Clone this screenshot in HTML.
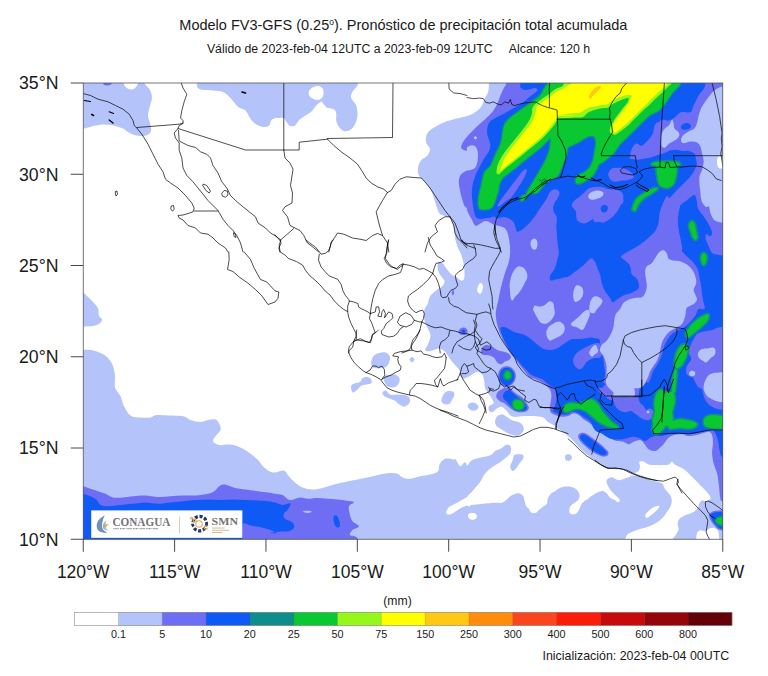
<!DOCTYPE html>
<html><head><meta charset="utf-8"><title>Pronóstico de precipitación</title>
<style>html,body{margin:0;padding:0;background:#fff}svg{display:block}text{font-family:"Liberation Sans",sans-serif;fill:#1a1a1a}</style></head><body>
<svg width="768" height="676" viewBox="0 0 768 676">
<rect width="768" height="676" fill="#fff"/>
<defs><clipPath id="fr"><rect x="83.25" y="83.0" width="639.5" height="456.25"/></clipPath></defs>
<g clip-path="url(#fr)">
<path d="M80.5,80.5C80.5,80.5 123.0,80.5 123.0,80.5C123.0,80.5 123.5,83.7 124.2,85.0C125.0,86.3 126.0,87.8 127.5,88.5C129.0,89.2 131.5,89.7 133.0,89.2C134.5,88.8 135.8,87.5 136.8,86.0C137.7,84.5 138.5,80.5 138.5,80.5C138.5,80.5 143.0,80.5 143.0,80.5C143.0,80.5 143.8,82.7 145.0,84.2C146.2,85.8 148.8,87.7 150.0,90.0C151.2,92.3 152.0,95.4 152.0,98.0C152.0,100.6 150.7,102.6 150.0,105.5C149.3,108.4 148.0,112.6 148.0,115.5C148.0,118.4 149.5,120.5 150.0,123.0C150.5,125.5 151.4,128.5 151.0,130.5C150.6,132.5 149.3,134.1 147.5,135.0C145.7,135.9 142.4,136.1 140.0,136.0C137.6,135.9 135.0,135.2 133.0,134.5C131.0,133.8 129.7,133.0 128.0,132.0C126.3,131.0 125.1,129.5 123.0,128.5C120.9,127.5 118.4,126.7 115.5,126.0C112.6,125.3 108.8,124.6 105.5,124.5C102.2,124.4 98.4,125.0 95.5,125.5C92.6,126.0 90.5,126.8 88.0,127.5C85.5,128.2 80.5,129.5 80.5,129.5C80.5,129.5 80.5,80.5 80.5,80.5Z" fill="#b4c3fa"/>
<path d="M196.8,80.5C196.8,80.5 196.5,85.9 197.5,87.5C198.5,89.1 200.4,89.5 203.0,90.0C205.6,90.5 209.7,90.2 213.0,90.5C216.3,90.8 220.1,90.8 223.0,92.0C225.9,93.2 228.0,95.5 230.5,98.0C233.0,100.5 235.5,104.7 238.0,106.8C240.5,108.8 243.5,108.6 245.5,110.5C247.5,112.4 248.4,115.8 250.0,118.0C251.6,120.2 252.8,122.0 255.0,123.5C257.2,125.0 260.6,126.7 263.0,127.0C265.4,127.3 267.9,126.6 269.2,125.5C270.6,124.4 270.0,121.8 271.0,120.5C272.0,119.2 273.9,118.4 275.0,118.0C276.1,117.6 276.0,118.0 277.5,118.0C279.0,118.0 282.3,117.4 283.8,118.0C285.2,118.6 285.2,120.4 286.2,121.8C287.3,123.1 288.5,125.4 290.0,126.0C291.5,126.6 293.5,126.4 295.0,125.5C296.5,124.6 297.3,122.0 298.8,120.5C300.2,119.0 301.7,118.2 303.8,116.8C305.8,115.3 309.2,113.6 311.2,111.8C313.3,109.9 314.6,107.2 316.2,105.5C317.9,103.8 320.0,102.0 321.2,101.8C322.5,101.5 322.7,103.2 323.8,104.2C324.8,105.3 325.8,107.2 327.5,108.0C329.2,108.8 332.3,108.4 333.8,109.2C335.2,110.1 335.8,111.1 336.2,113.0C336.7,114.9 335.8,118.2 336.2,120.5C336.7,122.8 337.5,125.0 338.8,126.8C340.0,128.5 341.9,130.5 343.8,131.0C345.6,131.5 348.1,131.1 350.0,130.0C351.9,128.9 353.8,126.7 355.0,124.2C356.2,121.8 357.3,118.6 357.5,115.5C357.7,112.4 357.3,108.4 356.2,105.5C355.2,102.6 351.9,100.3 351.2,98.0C350.6,95.7 351.5,93.8 352.5,91.8C353.5,89.7 356.6,87.4 357.5,85.5C358.4,83.6 358.0,80.5 358.0,80.5C358.0,80.5 196.8,80.5 196.8,80.5Z" fill="#b4c3fa"/>
<path d="M80.5,292.0C80.5,292.0 82.9,292.6 84.2,293.5C85.6,294.4 86.8,295.9 88.5,297.5C90.2,299.1 92.7,301.5 94.2,303.2C95.8,305.0 97.2,306.2 98.0,308.2C98.8,310.3 98.3,313.9 99.0,315.8C99.7,317.6 101.9,318.2 102.0,319.5C102.1,320.8 101.0,322.4 99.5,323.5C98.0,324.6 96.2,325.5 93.0,326.0C89.8,326.5 80.5,326.5 80.5,326.5C80.5,326.5 80.5,292.0 80.5,292.0Z" fill="#b4c3fa"/>
<path d="M80.5,350.0C80.5,350.0 87.6,349.7 90.5,350.0C93.4,350.3 95.5,351.0 98.0,352.0C100.5,353.0 103.2,353.9 105.5,355.8C107.8,357.6 110.3,360.8 111.8,363.2C113.2,365.8 113.7,368.5 114.2,370.8C114.8,373.0 114.9,375.0 115.0,377.0C115.1,379.0 114.7,380.5 114.8,382.5C114.8,384.5 114.5,386.5 115.5,388.8C116.5,391.0 119.2,393.8 120.5,396.2C121.8,398.8 122.0,401.2 123.0,403.8C124.0,406.2 125.3,409.2 126.8,411.2C128.2,413.3 129.5,415.2 131.8,416.2C134.0,417.3 137.4,417.3 140.5,417.5C143.6,417.7 148.0,417.9 150.5,417.5C153.0,417.1 152.6,415.6 155.5,415.2C158.4,414.9 163.4,415.3 168.0,415.5C172.6,415.7 179.2,415.5 183.0,416.2C186.8,417.0 187.6,419.0 190.5,420.0C193.4,421.0 197.6,422.0 200.5,422.0C203.4,422.0 205.5,420.4 208.0,420.0C210.5,419.6 213.6,418.9 215.5,419.5C217.4,420.1 218.4,422.0 219.2,423.8C220.1,425.5 221.1,427.9 220.5,430.0C219.9,432.1 216.8,434.4 215.5,436.2C214.2,438.1 212.4,439.8 213.0,441.2C213.6,442.7 216.8,444.5 219.2,445.0C221.8,445.5 225.3,444.4 228.0,444.5C230.7,444.6 233.0,444.8 235.5,445.5C238.0,446.2 240.5,447.4 243.0,448.8C245.5,450.1 248.0,451.9 250.5,453.8C253.0,455.6 255.9,457.9 258.0,460.0C260.1,462.1 261.1,464.4 263.0,466.2C264.9,468.1 267.2,470.2 269.2,471.2C271.2,472.3 272.6,472.6 275.0,472.5C277.4,472.4 281.5,469.9 283.8,470.5C286.0,471.1 286.9,474.2 288.8,476.2C290.6,478.2 292.7,480.6 295.0,482.5C297.3,484.4 299.6,486.3 302.5,487.5C305.4,488.7 309.2,489.4 312.5,489.5C315.8,489.6 319.2,488.8 322.5,488.0C325.8,487.2 329.2,485.9 332.5,485.0C335.8,484.1 338.8,483.3 342.5,482.5C346.2,481.7 350.8,480.8 355.0,480.0C359.2,479.2 363.3,478.4 367.5,477.5C371.7,476.6 376.2,475.2 380.0,474.5C383.8,473.8 387.1,473.1 390.0,473.0C392.9,472.9 395.4,473.0 397.5,473.8C399.6,474.5 400.4,476.7 402.5,477.5C404.6,478.3 407.1,479.0 410.0,478.8C412.9,478.5 416.7,477.0 420.0,476.2C423.3,475.5 427.0,475.3 430.0,474.5C433.0,473.7 436.4,473.2 438.0,471.5C439.6,469.8 438.4,466.6 439.5,464.5C440.6,462.4 442.3,459.9 444.5,459.0C446.7,458.1 450.3,458.5 452.5,459.2C454.7,460.0 456.4,462.2 457.5,463.8C458.6,465.3 457.7,468.1 459.2,468.8C460.8,469.4 465.7,454.8 467.0,467.5C468.3,480.2 467.0,545.0 467.0,545.0C467.0,545.0 80.5,545.0 80.5,545.0C80.5,545.0 80.5,350.0 80.5,350.0Z" fill="#b4c3fa"/>
<path d="M489.0,70.0C489.0,70.0 489.2,85.3 488.5,90.0C487.8,94.7 486.2,95.2 485.0,98.0C483.8,100.8 482.8,104.5 481.0,107.0C479.2,109.5 476.3,111.5 474.0,113.0C471.7,114.5 470.2,115.0 467.0,116.0C463.8,117.0 458.7,118.0 455.0,119.0C451.3,120.0 448.3,120.7 445.0,122.0C441.7,123.3 437.9,125.2 435.0,127.0C432.1,128.8 429.0,130.5 427.5,133.0C426.0,135.5 425.6,139.3 426.0,142.0C426.4,144.7 429.8,146.8 430.0,149.0C430.2,151.2 429.0,153.6 427.5,155.5C426.0,157.4 422.6,158.4 421.0,160.5C419.4,162.6 418.3,165.5 418.0,168.0C417.7,170.5 417.8,173.2 419.0,175.5C420.2,177.8 423.0,179.5 425.0,182.0C427.0,184.5 429.4,187.5 431.0,190.5C432.6,193.5 433.5,197.1 434.5,200.0C435.5,202.9 436.1,205.7 437.0,208.0C437.9,210.3 438.7,212.7 440.0,214.0C441.3,215.3 443.2,215.2 445.0,216.0C446.8,216.8 449.5,216.8 451.0,219.0C452.5,221.2 453.2,225.5 454.0,229.0C454.8,232.5 454.8,236.8 455.5,240.0C456.2,243.2 457.1,245.7 458.0,248.0C458.9,250.3 460.1,251.5 461.0,254.0C461.9,256.5 462.9,260.0 463.5,263.0C464.1,266.0 464.4,269.3 464.5,272.0C464.6,274.7 464.6,277.6 464.0,279.0C463.4,280.4 462.3,280.8 461.0,280.5C459.7,280.2 457.7,278.1 456.0,277.0C454.3,275.9 452.7,275.5 451.0,274.0C449.3,272.5 447.3,269.8 446.0,268.0C444.7,266.2 444.2,264.4 443.0,263.5C441.8,262.6 439.4,261.6 438.5,262.5C437.6,263.4 437.5,267.0 437.7,268.9C437.9,270.8 438.8,272.3 439.6,273.9C440.5,275.5 441.9,276.9 442.8,278.3C443.6,279.7 444.8,280.7 444.7,282.1C444.5,283.4 443.3,285.2 442.1,286.5C441.0,287.7 439.2,288.6 437.7,289.6C436.3,290.7 434.7,291.5 433.3,292.8C432.0,294.0 430.5,295.3 429.6,297.2C428.6,299.1 428.4,302.3 427.7,304.1C426.9,305.9 425.8,306.4 425.2,307.9C424.5,309.3 424.0,310.8 423.9,312.9C423.8,315.0 424.1,318.3 424.5,320.4C424.9,322.5 425.5,323.3 426.4,325.5C427.3,327.6 429.5,331.3 430.1,333.4C430.7,335.6 430.5,336.5 430.1,338.5C429.7,340.4 428.4,343.3 427.6,345.2C426.8,347.0 425.2,348.3 425.1,349.3C425.0,350.3 425.7,351.0 427.1,351.2C428.5,351.3 431.5,350.6 433.4,350.2C435.3,349.7 436.8,348.5 438.5,348.5C440.1,348.5 441.9,349.1 443.5,350.2C445.0,351.3 446.4,353.5 447.7,355.2C448.9,356.9 449.7,358.5 451.0,360.2C452.3,361.9 453.8,363.5 455.2,365.2C456.6,366.9 458.6,368.6 459.4,370.2C460.2,371.9 459.4,373.7 460.1,375.1C460.7,376.4 462.0,378.1 463.4,378.4C464.8,378.7 466.8,377.6 468.4,376.8C470.1,375.9 471.8,374.2 473.4,373.4C475.1,372.6 476.9,371.5 478.5,371.7C480.0,372.0 481.7,373.4 482.6,375.1C483.6,376.8 483.9,379.5 484.3,381.8C484.7,384.0 484.5,386.5 485.2,388.5C485.8,390.4 487.4,391.8 488.5,393.5C489.6,395.2 491.0,396.8 491.8,398.5C492.7,400.2 493.8,402.0 493.5,403.5C493.2,405.0 490.9,406.4 490.2,407.7C489.5,408.9 488.9,410.3 489.3,411.0C489.7,411.7 491.4,412.3 492.7,411.9C493.9,411.5 495.3,409.4 496.9,408.5C498.4,407.7 500.2,406.4 501.9,406.9C503.5,407.3 505.5,409.6 506.9,411.0C508.3,412.4 508.8,414.2 510.2,415.2C511.6,416.2 513.0,416.8 515.3,416.9C517.5,417.0 520.5,416.2 523.6,416.1C526.7,415.9 530.3,415.8 533.6,416.1C537.0,416.3 541.5,416.9 543.7,417.7C545.9,418.5 545.1,419.7 546.7,420.9C548.3,422.1 551.1,423.6 553.4,425.1C555.6,426.6 557.8,428.4 560.1,430.1C562.3,431.8 564.5,433.3 566.8,435.1C569.0,436.9 571.5,439.0 573.4,441.0C575.4,442.9 576.8,445.0 578.5,446.8C580.1,448.6 581.5,450.2 583.5,451.8C585.4,453.5 587.9,455.2 590.2,456.9C592.4,458.5 594.9,460.3 596.9,461.9C598.8,463.4 600.2,464.9 601.9,466.1C603.5,467.2 604.9,468.2 606.9,468.6C608.8,468.9 611.3,468.2 613.6,468.2C615.8,468.2 618.0,468.2 620.3,468.6C622.5,468.9 625.1,469.5 627.0,470.2C628.8,470.9 630.0,472.2 631.1,472.7C632.3,473.3 632.4,473.9 633.6,473.6C634.9,473.3 637.6,472.3 638.7,471.1C639.7,469.8 639.9,467.6 640.0,466.1C640.1,464.5 638.7,462.5 639.2,461.7C639.8,461.0 641.9,461.0 643.4,461.4C644.9,461.8 646.5,463.6 648.4,464.2C650.4,464.9 652.6,464.9 655.1,465.1C657.6,465.2 661.1,465.2 663.5,465.1C665.8,464.9 667.9,464.9 669.3,464.2C670.7,463.6 671.0,461.4 671.8,461.4C672.7,461.4 673.1,463.4 674.3,464.2C675.6,465.1 677.6,465.8 679.4,466.8C681.2,467.7 683.4,468.7 685.2,470.1C687.0,471.5 688.6,473.4 690.2,475.1C691.9,476.8 693.6,478.5 695.3,480.1C696.9,481.8 698.6,483.5 700.3,485.2C701.9,486.8 703.8,488.5 705.3,490.2C706.8,491.8 708.4,493.7 709.5,495.2C710.5,496.7 710.4,498.4 711.6,499.4C712.9,500.3 713.3,500.6 717.0,501.0C720.7,501.5 733.7,501.9 733.7,501.9C733.7,501.9 740.0,500.0 740.0,500.0C740.0,500.0 740.0,70.0 740.0,70.0C740.0,70.0 489.0,70.0 489.0,70.0Z" fill="#b4c3fa"/>
<path d="M453.3,466.0C454.1,450.3 457.8,466.0 460.0,466.0C462.2,466.0 464.9,466.8 466.7,466.0C468.5,465.1 469.2,462.2 470.9,460.9C472.5,459.7 474.4,459.1 476.7,458.4C479.1,457.7 482.7,457.3 485.1,456.8C487.5,456.2 489.3,456.1 490.9,455.1C492.6,454.1 493.4,452.0 495.1,450.9C496.8,449.8 499.2,449.4 501.0,448.4C502.8,447.4 504.6,445.6 506.0,445.1C507.4,444.5 508.5,444.5 509.3,445.1C510.2,445.6 510.9,447.0 511.0,448.4C511.1,449.8 511.0,451.9 510.2,453.4C509.3,454.9 507.4,456.3 506.0,457.6C504.6,458.8 503.3,459.8 501.8,460.9C500.3,462.1 498.5,463.2 496.8,464.3C495.1,465.4 493.4,466.4 491.8,467.6C490.1,468.9 488.1,470.4 486.8,471.8C485.4,473.2 484.4,474.5 483.4,476.0C482.4,477.5 482.0,479.3 480.9,481.0C479.8,482.7 478.3,484.2 476.7,486.0C475.2,487.8 473.4,490.1 471.7,491.9C470.0,493.7 468.4,495.4 466.7,496.9C465.0,498.3 463.0,499.5 461.7,500.6C460.3,501.7 458.9,502.5 458.7,503.6C458.4,504.7 458.9,506.7 460.0,507.3C461.1,507.8 463.3,507.3 465.0,506.9C466.7,506.6 468.1,505.7 470.0,505.3C472.0,504.8 474.2,504.7 476.7,504.4C479.2,504.1 482.3,503.9 485.1,503.6C487.9,503.3 490.7,502.9 493.4,502.7C496.2,502.6 499.7,503.2 501.8,502.7C503.9,502.3 504.7,501.2 506.0,500.2C507.2,499.3 508.1,497.9 509.3,496.9C510.6,495.9 512.0,495.0 513.5,494.4C515.0,493.8 517.0,493.1 518.5,493.2C520.1,493.4 521.7,494.0 522.7,495.2C523.7,496.4 523.8,498.4 524.4,500.2C524.9,502.0 525.4,504.7 526.1,506.1C526.8,507.5 527.9,507.8 528.6,508.6C529.2,509.4 529.3,510.2 529.9,510.9C530.5,511.7 531.2,512.6 532.2,512.9C533.3,513.2 535.0,513.2 536.1,512.8C537.1,512.3 537.5,511.2 538.6,510.3C539.7,509.3 541.4,508.0 542.8,506.9C544.2,505.8 546.1,505.0 547.0,503.6C547.8,502.2 547.1,500.2 547.8,498.6C548.5,496.9 549.9,494.8 551.1,493.5C552.4,492.3 553.8,492.0 555.3,491.0C556.9,490.1 558.4,488.4 560.3,487.7C562.3,486.9 564.8,486.5 567.0,486.5C569.3,486.5 571.9,486.9 573.7,487.7C575.5,488.4 576.9,489.6 577.9,491.0C578.9,492.4 579.6,494.5 579.6,496.1C579.6,497.6 578.7,499.1 577.9,500.2C577.1,501.3 575.7,501.9 574.5,502.7C573.4,503.6 572.0,504.3 571.2,505.3C570.4,506.2 569.8,507.3 569.5,508.6C569.3,509.8 569.0,511.8 569.5,512.8C570.1,513.8 571.6,514.4 572.9,514.4C574.1,514.4 575.9,513.8 577.1,512.8C578.2,511.8 578.9,510.0 579.6,508.6C580.3,507.2 580.4,505.7 581.2,504.4C582.1,503.2 583.4,501.9 584.6,501.1C585.7,500.2 588.0,499.2 588.1,499.4C588.2,499.6 584.8,502.4 585.2,502.0C585.5,501.6 588.2,498.5 590.2,497.0C592.1,495.5 594.8,493.8 596.9,492.8C598.9,491.8 601.0,491.0 602.7,491.1C604.4,491.3 605.6,492.5 606.9,493.6C608.1,494.8 608.8,496.7 610.2,497.8C611.6,498.9 614.1,499.6 615.3,500.3C616.4,501.1 616.5,502.4 617.3,502.3C618.0,502.3 620.5,501.4 619.9,500.0C619.3,498.6 615.5,495.8 613.6,493.6C611.7,491.5 609.7,489.2 608.6,487.0C607.4,484.7 606.0,481.9 606.6,480.3C607.1,478.7 609.9,477.3 611.9,477.3C613.9,477.3 616.1,480.2 618.6,480.3C621.1,480.4 624.4,478.5 627.0,477.8C629.5,477.1 631.4,475.9 633.6,476.1C635.9,476.2 638.1,477.9 640.3,478.6C642.6,479.3 648.7,480.7 647.0,480.3C645.3,479.8 631.8,476.7 630.0,476.0C628.3,475.2 634.5,475.7 636.7,476.0C639.0,476.2 641.2,476.9 643.4,477.6C645.6,478.3 647.9,479.4 650.1,480.1C652.3,480.8 654.7,481.2 656.8,481.8C658.9,482.4 661.4,482.8 662.6,483.8C663.9,484.9 663.2,486.3 664.5,488.2C665.7,490.1 668.9,493.0 670.2,495.2C671.4,497.3 671.8,499.1 671.8,501.0C671.8,503.0 671.0,505.1 670.2,506.9C669.3,508.7 668.1,510.1 666.8,511.9C665.6,513.7 664.2,516.1 662.6,517.8C661.1,519.4 659.4,520.7 657.6,521.9C655.8,523.2 653.9,524.3 651.8,525.3C649.7,526.3 647.3,527.1 645.1,527.8C642.9,528.5 640.6,528.8 638.4,529.5C636.2,530.2 633.7,531.0 631.7,532.0C629.8,532.9 627.9,533.6 626.7,535.3C625.5,537.0 624.7,542.0 624.7,542.0C624.7,542.0 455.0,560.0 455.0,560.0C455.0,560.0 452.5,481.6 453.3,466.0Z" fill="#b4c3fa"/>
<path d="M670.2,542.0C670.2,542.0 674.6,536.6 676.0,534.5C677.4,532.4 678.2,531.3 678.5,529.5C678.8,527.7 677.5,525.4 677.7,523.6C677.9,521.8 678.6,520.0 679.9,518.6C681.1,517.2 683.5,516.1 685.2,515.3C686.9,514.4 688.7,514.2 690.2,513.6C691.8,513.0 693.2,512.5 694.4,511.6C695.7,510.6 696.9,509.1 697.8,507.7C698.6,506.4 698.7,504.7 699.4,503.5C700.1,502.3 700.7,501.0 701.9,500.5C703.2,500.1 705.4,501.4 707.0,501.0C708.5,500.7 709.5,498.9 711.1,498.5C712.8,498.2 713.2,498.7 717.0,498.9C720.8,499.0 733.7,499.4 733.7,499.4C733.7,499.4 733.7,543.7 733.7,543.7C733.7,543.7 719.5,543.7 719.5,543.7C719.5,543.7 719.3,537.5 719.0,535.3C718.7,533.1 718.7,531.6 717.8,530.3C716.9,529.0 715.0,528.1 713.6,527.8C712.3,527.5 710.9,528.1 709.5,528.6C708.1,529.2 706.8,530.9 705.3,531.1C703.8,531.4 701.7,529.9 700.3,530.3C698.9,530.7 697.6,531.4 696.9,533.6C696.2,535.9 696.1,543.7 696.1,543.7C696.1,543.7 670.2,542.0 670.2,542.0Z" fill="#b4c3fa"/>
<path d="M510.2,466.8C510.2,465.0 512.0,462.1 512.7,460.1C513.4,458.1 513.4,456.1 514.3,455.1C515.3,454.1 517.1,454.2 518.5,454.2C520.0,454.2 522.5,454.2 523.2,455.1C523.9,455.9 523.4,457.9 522.7,459.3C522.1,460.7 520.5,461.9 519.4,463.4C518.2,465.0 517.1,467.2 516.0,468.5C514.9,469.7 513.7,471.2 512.7,471.0C511.7,470.7 510.2,468.6 510.2,466.8Z" fill="#b4c3fa"/>
<path d="M565.0,455.9C565.4,455.0 566.8,454.3 567.9,454.2C568.9,454.2 570.6,454.7 571.2,455.4C571.8,456.2 572.1,457.8 571.7,458.8C571.3,459.7 569.7,460.8 568.7,460.9C567.7,461.1 566.3,460.6 565.7,459.8C565.1,458.9 564.7,456.8 565.0,455.9Z" fill="#b4c3fa"/>
<path d="M495.2,420.2C495.5,418.7 496.4,417.0 497.7,416.1C498.9,415.1 501.2,414.2 502.7,414.4C504.2,414.5 505.4,415.9 506.9,416.9C508.4,417.9 510.0,419.4 511.9,420.2C513.9,421.1 516.8,421.1 518.6,421.9C520.4,422.7 521.9,423.9 522.8,425.3C523.6,426.6 524.0,428.7 523.6,430.3C523.2,431.8 521.8,433.6 520.3,434.4C518.7,435.3 516.6,435.9 514.4,435.6C512.2,435.3 509.3,433.9 506.9,432.8C504.5,431.6 502.0,429.8 500.2,428.6C498.4,427.3 496.9,426.6 496.0,425.3C495.2,423.9 494.9,421.8 495.2,420.2Z" fill="#b4c3fa"/>
<path d="M441.7,398.5C442.1,397.1 443.1,394.7 444.2,393.5C445.3,392.2 446.8,391.2 448.4,391.0C449.9,390.7 452.4,391.0 453.4,391.8C454.4,392.6 454.5,394.6 454.2,396.0C453.9,397.4 452.4,398.9 451.7,400.2C451.0,401.4 451.1,402.8 450.0,403.5C448.9,404.2 446.4,404.6 445.0,404.3C443.6,404.1 442.2,402.8 441.7,401.8C441.1,400.9 441.3,399.9 441.7,398.5Z" fill="#b4c3fa"/>
<path d="M467.6,406.0C467.6,404.8 469.5,403.1 470.9,402.7C472.3,402.3 474.7,402.8 476.0,403.5C477.2,404.2 478.5,405.7 478.5,406.9C478.5,408.0 477.2,409.6 476.0,410.2C474.7,410.8 472.3,410.9 470.9,410.2C469.5,409.5 467.6,407.3 467.6,406.0Z" fill="#b4c3fa"/>
<path d="M488.5,407.7C488.6,406.7 489.3,405.7 490.2,405.2C491.0,404.6 492.7,403.9 493.5,404.3C494.3,404.8 495.3,406.6 495.2,407.7C495.0,408.8 493.7,410.5 492.7,411.0C491.7,411.6 490.0,411.6 489.3,411.0C488.6,410.5 488.4,408.7 488.5,407.7Z" fill="#b4c3fa"/>
<path d="M371.2,362.0C371.5,360.1 372.3,357.3 373.8,355.8C375.2,354.2 377.9,353.2 380.0,352.8C382.1,352.2 384.6,352.0 386.2,352.8C387.9,353.5 389.6,355.2 390.0,357.0C390.4,358.8 389.6,361.5 388.8,363.2C387.9,365.0 386.9,366.7 385.0,367.5C383.1,368.3 379.6,368.3 377.5,368.2C375.4,368.2 373.5,368.0 372.5,367.0C371.5,366.0 371.0,363.9 371.2,362.0Z" fill="#b4c3fa"/>
<path d="M383.8,377.0C384.4,375.6 386.9,375.4 388.8,375.0C390.6,374.6 393.2,374.0 395.0,374.5C396.8,375.0 398.9,376.8 399.5,378.2C400.1,379.7 399.5,381.8 398.8,383.2C398.0,384.7 396.7,386.4 395.0,387.0C393.3,387.6 390.4,387.6 388.8,387.0C387.1,386.4 385.8,384.9 385.0,383.2C384.2,381.6 383.1,378.4 383.8,377.0Z" fill="#b4c3fa"/>
<path d="M351.2,385.8C351.7,384.2 353.5,383.9 355.0,383.2C356.5,382.6 358.8,382.8 360.0,382.0C361.2,381.2 361.2,379.1 362.5,378.2C363.8,377.4 366.0,376.8 367.5,377.0C369.0,377.2 370.6,378.5 371.2,379.5C371.9,380.5 372.1,382.4 371.2,383.2C370.4,384.1 367.9,384.1 366.2,384.5C364.6,384.9 362.7,384.9 361.2,385.8C359.8,386.6 359.0,388.4 357.5,389.5C356.0,390.6 353.5,393.1 352.5,392.5C351.5,391.9 350.8,387.3 351.2,385.8Z" fill="#b4c3fa"/>
<path d="M382.5,392.0C382.9,391.2 385.0,390.3 386.2,390.8C387.5,391.2 388.1,393.9 390.0,394.5C391.9,395.1 395.2,394.4 397.5,394.5C399.8,394.6 401.9,394.6 403.8,395.0C405.6,395.4 407.7,395.8 408.8,397.0C409.8,398.2 410.6,400.4 410.0,402.0C409.4,403.6 406.7,406.0 405.0,406.5C403.3,407.0 401.7,406.0 400.0,405.0C398.3,404.0 396.9,401.9 395.0,400.8C393.1,399.6 390.6,399.1 388.8,398.2C386.9,397.4 384.8,396.8 383.8,395.8C382.7,394.7 382.1,392.8 382.5,392.0Z" fill="#b4c3fa"/>
<path d="M409.5,359.5C409.5,358.6 411.2,357.0 412.0,357.0C412.8,357.0 414.5,358.6 414.5,359.5C414.5,360.4 412.8,362.2 412.0,362.2C411.2,362.2 409.5,360.4 409.5,359.5Z" fill="#b4c3fa"/>
<path d="M102.5,81.0C102.5,81.0 112.5,81.0 112.5,81.0C112.5,81.0 112.0,83.8 111.0,84.5C110.0,85.2 108.0,85.5 106.8,85.5C105.5,85.5 104.2,85.0 103.5,84.2C102.8,83.5 102.5,81.0 102.5,81.0Z" fill="#6e6ef5"/>
<path d="M308.8,91.8C309.2,90.2 310.8,88.5 312.5,87.5C314.2,86.5 317.0,85.7 318.8,86.0C320.5,86.3 322.2,87.7 323.0,89.2C323.8,90.8 323.8,93.8 323.2,95.5C322.8,97.2 321.4,98.8 320.0,99.5C318.6,100.2 316.7,100.0 315.0,99.5C313.3,99.0 311.0,98.0 310.0,96.8C309.0,95.5 308.3,93.3 308.8,91.8Z" fill="#ffffff"/>
<path d="M446.0,512.5C445.9,511.6 446.8,510.0 447.5,509.0C448.2,508.0 448.3,507.4 450.0,506.3C451.7,505.2 455.5,503.6 457.5,502.5C459.5,501.4 460.4,500.9 462.0,500.0C463.6,499.1 465.7,498.0 467.0,497.0C468.3,496.0 469.5,492.5 470.0,494.0C470.5,495.5 470.5,504.1 470.0,506.0C469.5,507.9 468.7,505.1 467.0,505.5C465.3,505.9 462.4,507.2 460.0,508.5C457.6,509.8 454.5,512.5 452.5,513.5C450.5,514.5 449.1,514.7 448.0,514.5C446.9,514.3 446.1,513.4 446.0,512.5Z" fill="#ffffff"/>
<path d="M468.0,515.3C468.1,514.3 469.0,513.6 470.0,513.3C471.1,512.9 473.1,512.8 474.2,513.1C475.3,513.4 476.4,514.4 476.7,515.3C477.1,516.1 476.9,517.5 476.4,518.3C475.8,519.0 474.5,519.7 473.4,519.8C472.3,519.9 470.6,519.9 469.7,519.1C468.8,518.4 468.0,516.3 468.0,515.3Z" fill="#ffffff"/>
<path d="M645.1,515.6C645.2,514.6 646.3,513.2 647.6,511.9C648.8,510.6 650.9,508.8 652.6,507.7C654.3,506.7 656.5,505.9 657.6,505.7C658.8,505.6 659.7,506.0 659.5,506.9C659.2,507.8 657.4,509.7 656.0,511.1C654.5,512.5 652.4,514.1 650.9,515.3C649.5,516.4 648.1,517.9 647.1,517.9C646.1,518.0 645.0,516.6 645.1,515.6Z" fill="#ffffff"/>
<path d="M477.4,291.3C477.0,290.1 477.4,287.7 477.9,286.3C478.4,284.9 479.5,283.1 480.4,283.0C481.2,282.8 482.6,284.2 482.9,285.5C483.2,286.7 482.9,289.1 482.4,290.5C481.9,291.9 480.9,293.7 480.0,293.8C479.2,294.0 477.7,292.6 477.4,291.3Z" fill="#ffffff"/>
<path d="M80.5,485.5C80.5,485.5 87.6,487.8 90.5,488.8C93.4,489.7 95.5,490.4 98.0,491.2C100.5,492.1 103.0,492.7 105.5,493.8C108.0,494.8 110.1,496.9 113.0,497.5C115.9,498.1 119.7,497.7 123.0,497.5C126.3,497.3 129.2,496.6 133.0,496.2C136.8,495.9 141.3,495.4 145.5,495.5C149.7,495.6 153.8,496.9 158.0,497.0C162.2,497.1 166.3,496.5 170.5,496.2C174.7,496.0 178.8,495.6 183.0,495.5C187.2,495.4 191.3,495.8 195.5,495.5C199.7,495.2 204.9,494.5 208.0,493.8C211.1,493.0 212.4,492.5 214.2,491.2C216.1,490.0 217.8,487.4 219.2,486.2C220.7,485.1 221.5,484.6 223.0,484.5C224.5,484.4 225.9,484.9 228.0,485.5C230.1,486.1 232.6,487.3 235.5,488.0C238.4,488.7 241.8,489.0 245.5,489.5C249.2,490.0 254.2,490.8 258.0,491.2C261.8,491.8 265.2,492.1 268.0,492.5C270.8,492.9 272.6,493.3 275.0,493.8C277.4,494.2 280.0,494.0 282.5,495.0C285.0,496.0 287.1,499.6 290.0,500.0C292.9,500.4 297.1,497.7 300.0,497.5C302.9,497.3 304.6,498.7 307.5,498.8C310.4,498.8 314.2,498.0 317.5,498.0C320.8,498.0 324.2,498.5 327.5,498.8C330.8,499.0 334.2,499.2 337.5,499.5C340.8,499.8 344.8,500.2 347.5,500.8C350.2,501.2 353.8,501.6 354.0,502.5C354.2,503.4 349.7,504.2 349.0,506.2C348.3,508.3 349.4,512.5 350.0,515.0C350.6,517.5 351.0,519.4 352.5,521.2C354.0,523.1 359.0,524.8 359.0,526.2C359.0,527.7 354.0,528.5 352.5,530.0C351.0,531.5 349.2,533.8 350.0,535.0C350.8,536.2 355.5,535.8 357.0,537.5C358.5,539.2 359.0,545.0 359.0,545.0C359.0,545.0 80.5,545.0 80.5,545.0C80.5,545.0 80.5,485.5 80.5,485.5Z" fill="#6e6ef5"/>
<path d="M506.3,73.0C506.3,73.0 506.9,80.2 506.3,83.0C505.7,85.8 503.9,87.6 503.0,89.7C502.0,91.8 501.4,93.2 500.4,95.5C499.5,97.9 498.5,101.1 497.1,103.9C495.7,106.7 494.0,109.8 492.1,112.3C490.1,114.8 487.6,116.9 485.4,119.0C483.2,121.0 480.7,123.0 478.7,124.8C476.8,126.6 475.4,128.2 473.7,129.8C472.0,131.5 469.8,133.7 468.7,134.8C467.6,136.0 467.3,136.4 467.0,136.7C466.7,137.0 467.8,135.7 467.0,136.8C466.2,137.8 463.5,141.1 462.5,143.0C461.5,144.9 461.0,146.8 461.2,148.0C461.5,149.2 463.0,149.6 464.0,150.0C465.0,150.4 466.5,150.9 467.0,150.5C467.5,150.1 466.2,148.3 467.0,147.4C467.8,146.5 470.5,145.2 472.0,145.2C473.5,145.2 475.2,146.0 476.2,147.4C477.2,148.7 477.7,150.9 477.9,153.2C478.1,155.6 477.8,159.2 477.4,161.6C476.9,164.0 476.5,166.1 475.4,167.4C474.2,168.8 471.7,169.5 470.3,170.0C469.0,170.5 467.6,170.4 467.0,170.5C466.4,170.5 468.0,169.9 467.0,170.5C466.0,171.1 462.6,172.6 461.2,174.2C459.9,175.9 459.0,177.8 458.8,180.5C458.5,183.2 459.4,187.2 460.0,190.5C460.6,193.8 461.7,197.8 462.5,200.5C463.3,203.2 464.2,205.5 465.0,206.8C465.8,208.0 466.7,207.4 467.0,208.0C467.3,208.6 466.3,208.5 467.0,210.2C467.7,212.0 469.8,216.0 471.2,218.6C472.6,221.2 473.8,224.9 475.4,225.8C476.9,226.6 478.7,224.4 480.4,223.6C482.1,222.8 483.7,221.2 485.4,221.1C487.1,220.9 488.9,222.1 490.4,222.8C491.9,223.5 493.1,224.7 494.6,225.3C496.1,225.8 497.9,225.5 499.6,226.1C501.4,226.7 503.7,227.2 505.1,228.6C506.5,230.0 507.2,231.8 508.0,234.5C508.8,237.1 509.5,241.2 509.8,244.5C510.1,247.8 510.2,251.5 510.0,254.5C509.8,257.6 509.2,260.2 508.5,262.9C507.8,265.5 506.7,267.6 505.8,270.4C504.9,273.2 503.8,276.4 503.0,279.6C502.1,282.8 501.2,286.3 500.4,289.6C499.7,293.0 499.1,296.4 498.4,299.7C497.7,302.9 496.7,306.4 496.3,309.0C495.8,311.7 495.6,313.2 495.8,315.7C495.9,318.2 496.5,321.3 497.1,324.1C497.7,326.8 498.6,329.8 499.6,332.4C500.6,335.1 501.7,337.4 503.0,339.9C504.2,342.4 505.7,345.1 507.1,347.5C508.5,349.8 509.9,352.2 511.3,354.2C512.7,356.1 514.2,357.5 515.5,359.2C516.7,360.8 517.6,362.5 518.8,364.2C520.1,365.9 521.8,367.7 523.0,369.2C524.3,370.7 525.2,372.1 526.4,373.4C527.5,374.6 528.2,375.8 529.7,376.7C531.2,377.7 533.5,378.3 535.6,379.2C537.7,380.2 540.3,381.3 542.3,382.6C544.2,383.8 545.9,385.4 547.3,386.8C548.7,388.2 549.9,389.4 550.6,390.9C551.3,392.5 551.4,394.0 551.4,396.0C551.4,397.9 550.9,400.4 550.6,402.6C550.3,404.9 549.5,407.5 549.8,409.3C550.1,411.1 551.0,412.5 552.3,413.5C553.5,414.5 557.7,415.5 557.3,415.2C556.9,414.9 550.4,411.7 550.0,411.7C549.7,411.7 553.1,414.2 555.1,415.1C557.0,415.9 559.5,416.6 561.7,416.7C564.0,416.9 566.5,416.4 568.4,415.9C570.4,415.3 571.8,413.5 573.4,413.4C575.1,413.2 576.8,414.1 578.5,415.1C580.1,416.0 581.5,417.8 583.5,419.2C585.4,420.6 587.9,422.0 590.2,423.4C592.4,424.8 594.6,425.9 596.9,427.6C599.1,429.3 601.3,431.6 603.5,433.4C605.8,435.3 608.0,437.2 610.2,438.5C612.5,439.7 614.7,440.4 616.9,441.0C619.2,441.5 621.7,441.2 623.6,441.8C625.6,442.4 627.0,444.3 628.6,444.3C630.3,444.3 631.7,442.5 633.6,441.8C635.6,441.1 638.4,439.6 640.3,440.1C642.3,440.7 644.0,443.6 645.4,445.2C646.7,446.7 647.0,448.4 648.7,449.3C650.4,450.3 653.2,451.5 655.4,451.0C657.6,450.5 660.2,447.6 661.9,446.1C663.5,444.5 664.1,443.3 665.2,441.9C666.3,440.5 667.2,438.8 668.6,437.7C670.0,436.6 671.4,435.7 673.6,435.2C675.8,434.6 679.4,434.2 682.0,434.3C684.5,434.5 686.4,435.9 688.6,436.0C690.9,436.2 693.1,435.6 695.3,435.2C697.6,434.8 699.8,434.1 702.0,433.5C704.3,433.0 707.0,431.6 708.7,431.8C710.4,432.1 711.4,433.2 712.1,435.2C712.8,437.1 712.9,440.5 712.9,443.5C712.9,446.6 711.9,450.2 712.1,453.6C712.2,456.9 712.9,460.3 713.7,463.6C714.6,467.0 716.2,470.3 717.1,473.6C717.9,477.0 718.2,479.5 718.7,483.7C719.3,487.8 719.7,495.6 720.3,498.5C720.9,501.4 720.1,500.6 722.3,501.2C724.6,501.8 733.7,501.9 733.7,501.9C733.7,501.9 740.0,500.0 740.0,500.0C740.0,500.0 740.0,60.0 740.0,60.0C740.0,60.0 506.3,73.0 506.3,73.0Z" fill="#6e6ef5"/>
<path d="M481.2,350.8C481.4,349.6 481.9,347.6 482.9,346.6C483.9,345.6 485.5,345.0 487.1,345.0C488.6,345.0 490.4,345.8 492.1,346.6C493.8,347.5 495.3,349.1 497.1,350.0C498.9,350.8 501.1,351.1 503.0,351.6C504.8,352.2 506.7,352.5 508.0,353.3C509.3,354.2 510.7,355.5 510.8,356.7C511.0,357.8 509.8,359.2 508.8,360.0C507.8,360.8 505.9,361.0 504.6,361.7C503.4,362.4 502.5,364.0 501.3,364.2C500.0,364.3 498.2,363.5 497.1,362.5C496.0,361.5 495.7,359.4 494.6,358.3C493.5,357.2 491.9,356.4 490.4,355.8C488.9,355.3 486.8,355.3 485.4,355.0C484.0,354.7 482.7,354.8 482.1,354.2C481.4,353.5 481.1,352.1 481.2,350.8Z" fill="#6e6ef5"/>
<path d="M497.9,375.9C498.1,374.1 498.6,371.6 499.6,370.0C500.6,368.5 502.1,367.2 503.8,366.7C505.5,366.1 508.0,366.1 509.6,366.7C511.3,367.2 512.8,368.6 513.8,370.0C514.9,371.4 515.7,373.2 515.8,375.1C516.0,376.9 515.4,379.2 514.7,380.9C513.9,382.6 512.6,384.0 511.3,385.1C510.1,386.1 508.7,387.3 507.1,387.3C505.6,387.3 503.5,386.1 502.1,385.1C500.7,384.0 499.5,382.4 498.8,380.9C498.1,379.4 497.8,377.7 497.9,375.9Z" fill="#6e6ef5"/>
<path d="M496.3,396.8C496.0,395.3 496.8,393.2 497.9,391.8C499.1,390.4 501.1,389.1 503.0,388.4C504.8,387.7 507.1,387.2 508.8,387.6C510.5,388.0 511.6,389.8 513.0,390.9C514.4,392.1 515.6,393.2 517.2,394.3C518.7,395.4 520.7,396.2 522.2,397.6C523.7,399.0 525.2,401.0 526.4,402.6C527.5,404.3 528.9,406.2 528.9,407.7C528.9,409.1 527.8,410.6 526.4,411.3C525.0,412.1 522.5,412.4 520.5,412.3C518.6,412.3 516.5,411.8 514.7,411.0C512.8,410.2 511.3,408.9 509.6,407.7C508.0,406.4 506.3,404.6 504.6,403.5C503.0,402.4 501.0,402.1 499.6,401.0C498.2,399.9 496.5,398.3 496.3,396.8Z" fill="#6e6ef5"/>
<path d="M578.1,436.0C578.3,434.6 579.7,433.5 581.0,433.1C582.3,432.7 584.2,432.7 586.0,433.4C587.8,434.2 589.7,436.1 591.8,437.6C593.9,439.2 596.4,441.0 598.5,442.6C600.6,444.3 602.8,446.1 604.4,447.7C606.0,449.2 607.7,450.5 608.2,451.8C608.8,453.1 608.6,454.7 607.7,455.5C606.8,456.3 604.5,456.7 602.7,456.5C600.9,456.3 598.9,455.4 596.9,454.3C594.8,453.3 592.3,451.7 590.2,450.2C588.1,448.6 586.0,446.7 584.3,445.2C582.6,443.6 581.2,442.5 580.1,441.0C579.1,439.4 578.0,437.3 578.1,436.0Z" fill="#6e6ef5"/>
<path d="M458.5,331.5C458.5,330.5 459.6,329.2 460.5,328.5C461.4,327.8 462.9,327.3 464.0,327.5C465.1,327.7 466.4,328.6 467.0,329.5C467.6,330.4 467.9,332.1 467.5,333.0C467.1,333.9 465.7,334.8 464.5,335.0C463.3,335.2 461.5,335.1 460.5,334.5C459.5,333.9 458.5,332.5 458.5,331.5Z" fill="#6e6ef5"/>
<path d="M451.8,292.0C452.0,291.3 452.6,290.3 453.0,290.3C453.4,290.3 454.2,291.4 454.2,292.2C454.2,293.0 453.6,294.6 453.2,295.0C452.8,295.4 452.2,295.1 452.0,294.6C451.8,294.1 451.6,292.7 451.8,292.0Z" fill="#6e6ef5"/>
<path d="M303.0,511.5C303.0,511.1 306.0,510.7 307.5,510.8C309.0,510.8 312.0,511.4 312.0,511.8C312.0,512.1 309.0,513.0 307.5,513.0C306.0,513.0 303.0,511.9 303.0,511.5Z" fill="#b4c3fa"/>
<path d="M710.3,515.3C710.4,513.9 712.3,513.3 713.6,512.7C715.0,512.2 716.4,512.0 718.7,511.9C720.9,511.8 727.0,511.9 727.0,511.9C727.0,511.9 727.0,528.6 727.0,528.6C727.0,528.6 722.1,529.2 720.3,528.6C718.5,528.1 717.4,526.5 716.2,525.3C714.9,524.0 713.8,522.8 712.8,521.1C711.8,519.4 710.2,516.6 710.3,515.3Z" fill="none" stroke="#6e6ef5" stroke-width="3" stroke-linejoin="round"/>
<path d="M80.5,493.0C80.5,493.0 87.8,495.1 90.5,496.2C93.2,497.4 95.1,498.5 96.8,500.0C98.4,501.5 98.6,504.0 100.5,505.0C102.4,506.0 104.7,506.2 108.0,506.2C111.3,506.2 116.3,505.4 120.5,505.0C124.7,504.6 128.8,504.2 133.0,503.8C137.2,503.3 141.3,502.5 145.5,502.5C149.7,502.5 153.8,503.8 158.0,503.8C162.2,503.8 166.3,502.9 170.5,502.5C174.7,502.1 178.8,501.7 183.0,501.2C187.2,500.8 191.3,500.3 195.5,500.0C199.7,499.7 203.8,499.5 208.0,499.5C212.2,499.5 216.3,500.0 220.5,500.0C224.7,500.0 228.8,499.5 233.0,499.5C237.2,499.5 241.3,499.8 245.5,500.0C249.7,500.2 254.2,500.3 258.0,500.5C261.8,500.7 265.2,500.9 268.0,501.2C270.8,501.6 272.6,501.9 275.0,502.5C277.4,503.1 279.9,504.8 282.5,505.0C285.1,505.2 289.7,502.7 290.5,503.5C291.3,504.3 288.6,508.3 287.5,510.0C286.4,511.7 284.2,512.3 283.8,513.8C283.3,515.2 283.5,517.3 285.0,518.8C286.5,520.2 291.0,521.0 292.5,522.5C294.0,524.0 294.6,526.0 294.0,527.5C293.4,529.0 291.1,530.6 288.8,531.2C286.4,531.9 283.1,531.2 280.0,531.5C276.9,531.8 270.5,532.8 270.0,533.0C269.5,533.2 277.5,533.5 276.8,532.8C276.0,532.0 269.8,529.7 265.5,528.5C261.2,527.3 254.5,526.2 250.8,525.5C247.0,524.8 244.3,521.2 243.0,524.5C241.7,527.8 243.0,545.0 243.0,545.0C243.0,545.0 80.5,545.0 80.5,545.0C80.5,545.0 80.5,493.0 80.5,493.0Z" fill="#0f5af5"/>
<path d="M333.5,517.0C333.8,515.5 335.6,515.0 336.5,515.5C337.4,516.0 338.4,518.3 339.0,520.0C339.6,521.7 340.2,524.2 340.0,525.5C339.8,526.8 338.4,527.7 337.5,527.5C336.6,527.3 335.2,526.2 334.5,524.5C333.8,522.8 333.2,518.5 333.5,517.0Z" fill="#0f5af5"/>
<path d="M461.5,331.0C461.4,330.4 462.8,329.5 463.5,329.5C464.2,329.5 465.4,330.4 465.5,331.0C465.6,331.6 464.7,333.0 464.0,333.0C463.3,333.0 461.6,331.6 461.5,331.0Z" fill="#0f5af5"/>
<path d="M520.5,78.0C520.5,78.0 520.5,81.4 520.5,83.0C520.5,84.6 519.7,86.2 520.5,87.4C521.2,88.6 523.3,89.6 524.9,89.9C526.4,90.2 528.2,89.6 529.9,89.3C531.6,89.0 533.7,87.8 534.9,88.0C536.2,88.2 538.1,89.3 537.4,90.5C536.8,91.8 533.5,93.7 531.2,95.6C528.8,97.5 526.5,99.8 523.6,101.9C520.7,104.0 516.7,106.3 513.5,108.2C510.4,110.0 507.5,111.7 504.7,113.2C502.0,114.7 499.5,115.7 497.2,117.0C494.9,118.2 492.5,119.3 490.9,120.7C489.3,122.2 488.4,123.7 487.8,125.8C487.1,127.9 486.9,131.0 487.1,133.3C487.3,135.6 488.5,137.5 489.0,139.6C489.5,141.7 490.4,143.8 490.3,145.9C490.2,148.0 489.4,150.1 488.4,152.2C487.3,154.3 485.2,156.4 484.0,158.5C482.7,160.6 481.7,163.2 480.8,164.8C480.0,166.4 479.7,166.7 478.9,168.0C478.2,169.4 477.2,171.4 476.4,173.0C475.7,174.7 475.2,176.2 474.5,178.1C473.9,179.9 473.1,181.8 472.7,184.4C472.2,186.9 471.8,190.0 471.8,193.2C471.8,196.3 472.3,200.3 472.7,203.2C473.0,206.2 473.4,208.5 473.9,210.8C474.4,213.1 474.9,215.7 475.8,217.1C476.7,218.4 478.1,218.7 479.6,218.9C481.0,219.2 482.9,218.5 484.6,218.3C486.3,218.1 488.1,218.0 489.6,217.7C491.2,217.4 492.9,216.3 494.0,216.4C495.2,216.5 495.8,218.0 496.6,218.3C497.3,218.6 497.3,218.5 498.4,218.3C499.6,218.1 501.8,217.1 503.5,217.1C505.2,217.1 506.8,217.5 508.5,218.3C510.2,219.2 512.4,220.6 513.5,222.1C514.7,223.6 514.9,225.5 515.4,227.1C516.0,228.7 516.0,230.9 516.7,231.5C517.4,232.2 518.7,231.4 519.8,230.9C521.0,230.4 522.2,229.4 523.6,228.4C525.0,227.3 526.5,226.1 528.0,224.6C529.5,223.1 531.0,221.2 532.4,219.6C533.8,217.9 534.9,216.4 536.2,214.5C537.4,212.7 538.7,210.1 540.0,208.3C541.2,206.4 542.5,205.1 543.7,203.2C545.0,201.3 546.5,198.8 547.5,196.9C548.6,195.0 549.0,193.2 550.0,191.9C551.1,190.6 552.5,189.7 553.8,189.4C555.1,189.1 556.6,189.4 557.6,190.0C558.5,190.6 559.5,191.8 559.5,193.2C559.5,194.5 558.3,196.7 557.6,198.2C556.8,199.7 555.8,200.5 555.1,202.0C554.3,203.4 553.4,205.3 553.2,207.0C553.0,208.7 553.3,210.6 553.8,212.0C554.3,213.5 555.8,214.3 556.3,215.8C556.8,217.3 556.9,218.9 556.9,220.8C556.9,222.7 556.3,224.8 556.3,227.1C556.3,229.4 556.7,231.9 556.9,234.7C557.1,237.4 557.3,240.4 557.6,243.5C557.9,246.5 558.9,250.4 558.8,253.0C558.8,255.7 557.8,257.3 557.3,259.5C556.8,261.7 556.3,264.3 555.6,266.2C554.9,268.2 554.0,269.9 553.1,271.3C552.3,272.6 551.2,273.5 550.6,274.6C550.1,275.7 549.7,276.9 549.8,277.9C549.9,278.9 550.1,280.3 551.1,280.6C552.1,280.9 553.8,280.1 555.6,279.6C557.5,279.2 560.1,278.5 562.3,277.9C564.5,277.4 566.8,277.4 569.0,276.3C571.2,275.2 573.5,272.9 575.7,271.3C577.9,269.6 580.4,267.9 582.4,266.2C584.3,264.6 585.9,262.6 587.4,261.2C588.9,259.9 590.3,258.1 591.6,258.2C592.9,258.3 594.2,260.7 595.1,262.1C595.9,263.4 595.9,264.1 596.7,266.2C597.5,268.3 599.2,271.8 600.0,274.6C600.9,277.4 600.9,280.2 601.7,283.0C602.5,285.7 603.6,288.8 605.0,291.3C606.4,293.8 608.8,296.2 610.1,298.0C611.3,299.8 611.4,301.9 612.6,302.2C613.7,302.5 614.9,300.8 616.7,299.7C618.6,298.6 621.1,296.6 623.4,295.5C625.8,294.4 628.6,294.0 631.0,293.0C633.3,292.0 636.3,291.0 637.6,289.6C639.0,288.3 639.0,286.4 638.8,284.6C638.7,282.8 638.0,280.4 636.8,278.8C635.6,277.1 632.8,276.1 631.8,274.6C630.8,273.1 631.4,271.3 631.0,269.6C630.5,267.9 630.3,266.1 629.3,264.6C628.3,263.0 626.5,261.6 625.1,260.4C623.7,259.1 621.1,258.2 620.9,257.0C620.8,255.9 622.5,254.9 624.3,253.7C626.1,252.4 629.1,251.0 631.8,249.5C634.4,248.0 637.4,246.4 640.2,244.5C642.9,242.5 646.0,240.0 648.5,237.8C651.0,235.6 653.5,233.6 655.2,231.1C656.9,228.6 657.8,225.5 658.5,222.8C659.2,220.0 658.8,217.2 659.4,214.4C659.9,211.6 660.6,209.1 661.9,206.0C663.1,203.0 665.7,197.3 666.9,196.0C668.1,194.7 667.8,198.7 669.0,198.2C670.2,197.7 672.3,194.8 674.0,193.2C675.7,191.5 677.4,189.8 679.1,188.1C680.7,186.4 682.4,184.8 684.1,183.1C685.8,181.4 687.7,179.7 689.1,178.1C690.6,176.4 691.8,174.7 692.9,173.0C693.9,171.4 694.8,169.4 695.4,168.0C696.0,166.6 696.6,166.3 696.7,164.8C696.8,163.2 696.5,160.4 696.0,158.5C695.6,156.6 695.3,154.7 694.2,153.4C693.0,152.2 691.0,151.3 689.1,150.9C687.2,150.5 684.9,151.1 682.8,150.9C680.7,150.7 678.6,149.8 676.5,149.7C674.4,149.6 672.1,149.8 670.3,150.3C668.4,150.8 667.1,152.1 665.2,152.8C663.3,153.5 661.2,154.0 658.9,154.7C656.6,155.4 653.7,156.6 651.4,157.2C649.1,157.8 647.4,158.1 645.1,158.5C642.8,158.9 640.1,159.7 637.5,159.7C635.0,159.7 631.2,159.2 630.0,158.5C628.8,157.7 630.2,156.4 630.3,155.3C630.4,154.3 630.1,153.8 630.7,152.2C631.2,150.6 632.4,147.4 633.4,145.9C634.5,144.4 636.0,143.4 637.2,143.4C638.5,143.4 639.7,145.9 641.0,145.9C642.2,145.9 643.3,144.6 644.8,143.4C646.2,142.1 648.4,140.0 649.8,138.3C651.2,136.7 652.2,135.2 652.9,133.3C653.7,131.4 653.7,128.7 654.2,127.0C654.7,125.3 655.3,124.1 656.1,123.3C656.9,122.4 657.9,122.6 659.0,122.0C660.1,121.4 661.2,119.7 662.7,119.5C664.2,119.3 666.1,120.8 667.7,120.7C669.4,120.6 671.3,119.7 672.8,118.8C674.2,118.0 675.3,116.8 676.5,115.7C677.8,114.7 679.1,113.2 680.3,112.6C681.6,111.9 682.8,111.9 684.1,111.9C685.3,111.9 686.6,112.7 687.9,112.6C689.1,112.5 690.8,112.2 691.6,111.3C692.5,110.4 692.3,108.5 692.9,106.9C693.5,105.3 694.6,103.5 695.4,101.9C696.2,100.2 697.1,98.3 697.9,96.8C698.8,95.4 699.4,94.5 700.4,93.1C701.5,91.6 703.4,89.7 704.2,88.0C705.1,86.4 705.3,84.7 705.5,83.0C705.7,81.3 705.5,78.0 705.5,78.0C705.5,78.0 520.5,78.0 520.5,78.0Z" fill="#0f5af5"/>
<path d="M680.3,205.7C680.4,204.5 681.8,204.1 682.8,203.2C683.9,202.4 685.3,201.6 686.6,200.7C687.9,199.8 689.1,198.5 690.4,197.6C691.6,196.6 693.2,194.9 694.2,195.0C695.1,195.1 695.6,196.8 696.0,198.2C696.5,199.6 696.4,201.5 696.7,203.2C697.0,204.9 697.2,206.6 697.9,208.3C698.7,209.9 699.9,211.6 701.1,213.3C702.2,215.0 703.7,216.6 704.8,218.3C706.0,220.0 707.1,221.7 708.0,223.3C708.8,225.0 709.5,226.7 709.9,228.4C710.3,230.1 710.6,232.2 710.5,233.4C710.4,234.7 709.9,235.9 709.2,235.9C708.6,235.9 707.6,234.2 706.7,233.4C705.9,232.6 704.8,230.7 704.2,230.9C703.6,231.1 703.0,233.0 703.0,234.7C703.0,236.3 703.8,238.9 704.2,241.0C704.6,243.1 705.1,245.2 705.5,247.2C705.9,249.3 710.3,252.1 706.7,253.0C703.2,254.0 688.1,254.2 684.1,253.0C680.1,251.9 683.2,248.2 682.8,246.0C682.4,243.8 682.0,241.8 681.6,239.7C681.2,237.6 680.6,235.5 680.3,233.4C680.0,231.3 679.9,229.2 679.7,227.1C679.5,225.0 679.0,222.7 679.1,220.8C679.2,218.9 679.8,217.5 680.3,215.8C680.8,214.1 682.2,212.4 682.2,210.8C682.2,209.1 680.2,207.0 680.3,205.7Z" fill="#0f5af5"/>
<path d="M500.4,328.2C500.9,326.6 503.8,327.1 505.5,327.4C507.1,327.7 508.8,329.1 510.5,329.9C512.2,330.7 513.5,331.7 515.5,332.4C517.4,333.1 520.0,333.2 522.2,334.1C524.4,334.9 526.9,336.2 528.9,337.4C530.8,338.7 532.2,340.2 533.9,341.6C535.6,343.0 537.2,344.5 538.9,345.8C540.6,347.0 542.0,348.4 543.9,349.1C545.9,349.8 548.4,350.1 550.6,350.0C552.8,349.8 555.4,349.1 557.3,348.3C559.3,347.5 560.6,346.1 562.3,345.0C564.0,343.8 565.7,342.6 567.3,341.6C569.0,340.6 570.4,339.5 572.4,339.1C574.3,338.7 576.8,339.2 579.0,339.1C581.3,339.0 583.8,338.5 585.7,338.3C587.7,338.0 589.2,337.4 590.7,337.4C592.3,337.4 593.6,337.9 595.1,338.3C596.5,338.6 598.6,338.5 599.5,339.5C600.3,340.5 599.9,342.7 600.1,344.3C600.3,345.9 600.4,347.6 600.7,349.3C601.1,351.0 601.8,352.5 602.2,354.4C602.7,356.2 603.2,358.5 603.5,360.6C603.8,362.7 604.0,364.8 604.3,366.9C604.5,369.0 605.1,371.3 605.1,373.2C605.2,375.1 604.8,376.8 604.5,378.3C604.2,379.7 603.3,380.9 603.5,382.0C603.7,383.1 604.8,383.8 605.8,384.8C606.8,385.7 608.1,387.1 609.5,387.7C611.0,388.3 613.1,388.1 614.6,388.6C616.0,389.0 617.2,389.7 618.3,390.6C619.5,391.4 620.4,392.9 621.5,393.6C622.5,394.3 623.3,394.6 624.6,394.9C626.0,395.1 628.2,395.1 629.7,394.9C631.1,394.6 632.7,394.0 633.4,393.1C634.2,392.2 633.4,390.2 634.1,389.3C634.7,388.5 636.1,388.2 637.2,388.1C638.4,388.0 639.9,389.1 641.0,388.7C642.0,388.3 642.6,386.9 643.5,385.8C644.4,384.7 645.8,382.6 646.6,382.0C647.5,381.5 647.8,383.3 648.5,382.6C649.2,381.8 650.3,379.4 651.0,377.6C651.7,375.8 651.9,373.5 652.7,371.7C653.5,369.9 654.9,368.5 656.0,366.7C657.2,364.9 658.4,362.9 659.4,360.8C660.4,358.7 661.2,356.4 661.9,354.2C662.6,351.9 662.7,349.7 663.6,347.5C664.4,345.2 665.5,343.0 666.9,340.8C668.3,338.5 670.0,335.9 671.9,334.1C673.9,332.3 676.2,331.3 678.6,329.9C681.0,328.5 684.0,327.3 686.1,325.7C688.2,324.2 689.6,322.4 691.2,320.7C692.7,319.0 694.1,317.6 695.3,315.7C696.6,313.7 697.1,310.1 698.7,309.0C700.2,307.9 703.7,310.0 704.5,309.0C705.4,308.0 704.1,305.4 703.7,303.0C703.3,300.6 702.4,297.4 702.0,294.7C701.6,291.9 701.6,289.1 701.2,286.3C700.8,283.5 700.1,280.7 699.5,277.9C699.0,275.2 698.8,272.1 697.8,269.6C696.9,267.1 695.2,264.8 693.7,262.9C692.1,260.9 690.3,259.5 688.6,257.9C687.0,256.2 684.7,254.8 683.6,252.9C682.5,250.9 682.5,248.7 682.0,246.2C681.4,243.7 680.8,240.6 680.3,237.8C679.7,235.0 679.0,232.2 678.6,229.4C678.2,226.7 677.8,223.9 677.8,221.1C677.8,218.3 678.2,215.3 678.6,212.7C679.0,210.2 680.0,206.9 680.3,205.7C680.6,204.5 679.9,206.1 680.3,205.7C680.7,205.3 681.8,204.1 682.8,203.2C683.9,202.4 685.3,201.6 686.6,200.7C687.9,199.8 689.1,198.5 690.4,197.6C691.6,196.6 693.3,195.3 694.2,195.0C695.0,194.8 694.9,194.7 695.3,196.0C695.8,197.3 696.6,200.5 697.0,202.7C697.4,204.9 697.0,207.4 697.8,209.4C698.7,211.3 700.6,212.4 702.0,214.4C703.4,216.3 704.8,218.9 706.2,221.1C707.6,223.3 709.4,225.8 710.4,227.8C711.4,229.7 712.1,231.4 712.1,232.8C712.1,234.2 711.2,236.0 710.4,236.1C709.6,236.3 708.2,233.3 707.4,233.6C706.5,233.9 705.1,235.7 705.4,237.8C705.6,239.9 707.6,243.7 708.7,246.2C709.8,248.7 710.7,251.5 712.1,252.9C713.5,254.2 715.4,254.1 717.1,254.5C718.7,254.9 719.6,255.2 722.1,255.4C724.6,255.5 732.1,255.4 732.1,255.4C732.1,255.4 732.1,456.9 732.1,456.9C732.1,456.9 724.2,458.0 722.1,456.9C720.0,455.8 720.3,453.0 719.6,450.2C718.9,447.4 718.6,443.0 717.9,440.2C717.2,437.4 716.2,435.2 715.4,433.5C714.6,431.8 714.0,430.7 712.9,430.2C711.8,429.6 710.5,429.9 708.7,430.2C706.9,430.4 704.3,431.3 702.0,431.8C699.8,432.3 697.6,432.8 695.3,433.2C693.1,433.5 690.9,433.8 688.6,433.8C686.4,433.9 684.2,433.5 682.0,433.5C679.7,433.5 677.5,433.7 675.3,433.8C673.0,434.0 670.8,434.0 668.6,434.3C666.3,434.7 664.1,435.7 661.9,436.0C659.7,436.3 657.2,435.7 655.2,436.0C653.2,436.3 651.9,436.9 650.2,437.7C648.5,438.5 646.8,440.9 645.2,441.0C643.5,441.2 641.8,439.2 640.2,438.5C638.5,437.8 637.1,437.0 635.1,436.9C633.2,436.7 630.7,437.3 628.4,437.7C626.2,438.1 624.0,439.1 621.8,439.4C619.5,439.6 617.3,439.6 615.1,439.4C612.8,439.1 610.6,438.7 608.4,437.7C606.1,436.7 603.9,434.8 601.7,433.5C599.5,432.3 596.9,432.1 595.0,430.2C593.1,428.2 591.9,423.8 590.2,421.7C588.4,419.6 586.3,419.0 584.3,417.6C582.4,416.2 580.4,414.4 578.5,413.4C576.5,412.4 574.4,411.6 572.6,411.7C570.8,411.8 569.3,413.7 567.6,414.2C565.9,414.7 564.5,414.9 562.6,414.7C560.6,414.5 557.8,413.8 555.9,413.0C553.9,412.3 551.5,410.4 550.9,410.0C550.3,409.7 551.6,411.7 552.3,411.0C552.9,410.3 554.1,407.9 554.8,406.0C555.5,404.0 556.3,401.5 556.5,399.3C556.6,397.1 555.9,394.6 555.6,392.6C555.4,390.7 555.4,388.6 554.8,387.6C554.2,386.6 553.5,387.5 552.3,386.8C551.0,386.1 548.9,384.7 547.3,383.4C545.6,382.2 544.2,380.3 542.3,379.2C540.3,378.1 537.5,377.6 535.6,376.7C533.6,375.9 532.1,375.3 530.5,374.2C529.0,373.1 527.8,371.4 526.4,370.0C525.0,368.6 523.6,367.4 522.2,365.9C520.8,364.3 519.4,362.5 518.0,360.8C516.6,359.2 515.2,357.6 513.8,355.8C512.4,354.0 510.9,351.9 509.6,350.0C508.4,348.0 507.4,346.2 506.3,344.1C505.2,342.0 503.9,340.1 503.0,337.4C502.0,334.8 500.0,329.9 500.4,328.2Z" fill="#0f5af5"/>
<path d="M499.6,375.9C499.7,374.3 500.1,372.2 500.9,370.9C501.8,369.6 503.3,368.5 504.6,368.0C506.0,367.6 507.8,367.6 509.1,368.0C510.5,368.5 511.8,369.6 512.7,370.9C513.5,372.1 514.4,373.8 514.5,375.4C514.6,377.0 514.0,379.2 513.3,380.6C512.7,382.0 511.5,383.1 510.5,383.9C509.4,384.8 508.4,385.6 507.1,385.6C505.9,385.6 504.1,384.8 503.0,383.9C501.8,383.1 501.0,381.9 500.4,380.6C499.9,379.2 499.5,377.5 499.6,375.9Z" fill="#0f5af5"/>
<path d="M503.0,396.0C503.0,394.8 503.6,393.3 504.6,392.3C505.6,391.3 507.5,390.0 508.8,390.1C510.1,390.2 511.1,391.6 512.5,392.6C513.8,393.6 515.3,395.1 516.8,396.3C518.3,397.5 520.1,398.4 521.5,399.6C522.9,400.9 524.2,402.6 525.2,404.0C526.1,405.4 527.2,406.9 527.2,408.0C527.2,409.1 526.3,409.8 525.2,410.3C524.1,410.8 522.1,411.1 520.5,411.0C518.9,410.9 517.1,410.4 515.5,409.7C513.9,408.9 512.3,407.6 510.8,406.3C509.4,405.0 507.9,403.0 506.8,401.8C505.7,400.6 504.8,400.3 504.1,399.3C503.5,398.3 502.9,397.1 503.0,396.0Z" fill="#0f5af5"/>
<path d="M579.8,437.1C579.9,436.2 580.9,435.1 581.8,434.8C582.8,434.4 584.0,434.4 585.5,435.1C587.0,435.8 589.0,437.3 591.0,438.8C593.0,440.2 595.7,442.2 597.7,443.8C599.7,445.4 601.7,447.1 603.2,448.5C604.7,449.9 606.1,451.2 606.6,452.2C607.1,453.2 606.9,454.0 606.2,454.5C605.6,455.0 604.2,455.5 602.7,455.2C601.2,454.9 599.2,453.9 597.2,452.8C595.2,451.8 592.8,450.3 590.8,448.8C588.8,447.4 586.7,445.6 585.2,444.1C583.6,442.7 582.4,441.3 581.5,440.1C580.6,439.0 579.7,438.0 579.8,437.1Z" fill="#0f5af5"/>
<path d="M710.3,515.3C710.4,513.9 712.3,513.3 713.6,512.7C715.0,512.2 716.4,512.0 718.7,511.9C720.9,511.8 727.0,511.9 727.0,511.9C727.0,511.9 727.0,528.6 727.0,528.6C727.0,528.6 722.1,529.2 720.3,528.6C718.5,528.1 717.4,526.5 716.2,525.3C714.9,524.0 713.8,522.8 712.8,521.1C711.8,519.4 710.2,516.6 710.3,515.3Z" fill="#0f5af5"/>
<path d="M525.9,168.9C525.5,168.8 525.0,169.3 524.0,170.1C523.1,171.0 521.5,172.4 520.3,173.9C519.0,175.4 517.7,177.3 516.5,178.9C515.2,180.6 514.0,182.3 512.7,184.0C511.4,185.6 510.2,187.3 508.9,189.0C507.7,190.7 506.4,192.3 505.2,194.0C503.9,195.7 502.5,197.4 501.4,199.1C500.2,200.7 498.9,202.9 498.2,204.1C497.6,205.3 497.3,205.9 497.6,206.2C497.9,206.5 499.1,206.5 500.1,206.0C501.2,205.4 502.7,203.8 503.9,202.8C505.1,201.9 506.0,201.0 507.0,200.3C508.1,199.6 509.1,199.4 510.2,198.4C511.2,197.5 512.3,196.0 513.3,194.7C514.4,193.3 515.4,191.8 516.5,190.3C517.5,188.7 518.6,186.9 519.6,185.2C520.7,183.5 521.8,181.9 522.8,180.2C523.7,178.5 524.6,176.7 525.3,175.2C526.0,173.6 526.7,171.8 526.8,170.8C526.9,169.7 526.4,169.0 525.9,168.9Z" fill="#6e6ef5"/>
<path d="M571.8,205.7C571.6,204.1 573.1,202.2 574.3,200.7C575.6,199.2 577.7,198.3 579.4,196.9C581.0,195.6 582.7,194.0 584.4,192.5C586.1,191.1 587.5,189.1 589.4,188.1C591.3,187.2 593.6,187.1 595.7,186.9C597.8,186.7 600.1,186.6 602.0,186.9C603.9,187.2 605.1,188.0 607.0,188.8C608.9,189.5 611.2,190.2 613.3,191.3C615.4,192.3 617.9,193.7 619.6,195.0C621.3,196.4 623.0,198.0 623.4,199.4C623.8,200.9 623.2,202.8 622.1,203.8C621.1,204.9 618.6,204.8 617.1,205.7C615.6,206.7 614.6,207.8 613.3,209.5C612.1,211.2 610.7,213.9 609.5,215.8C608.4,217.7 607.7,219.7 606.4,220.8C605.1,222.0 603.4,222.9 602.0,222.7C600.6,222.5 599.5,220.3 598.2,219.6C597.0,218.8 595.8,218.1 594.4,218.3C593.1,218.5 591.5,220.0 590.0,220.8C588.6,221.7 587.2,223.0 585.6,223.3C584.1,223.7 582.1,223.3 580.6,222.7C579.1,222.1 577.6,220.9 576.8,219.6C576.1,218.2 576.4,216.0 576.2,214.5C576.0,213.1 576.3,212.2 575.6,210.8C574.8,209.3 572.0,207.4 571.8,205.7Z" fill="#6e6ef5"/>
<path d="M608.3,175.5C608.0,174.0 608.7,172.4 609.5,171.1C610.4,169.9 611.2,168.5 613.3,168.0C615.4,167.5 619.6,167.6 622.1,168.0C624.6,168.4 626.6,169.5 628.4,170.5C630.2,171.6 632.0,173.0 632.8,174.3C633.6,175.5 634.2,177.1 633.4,178.1C632.7,179.0 630.3,179.5 628.4,179.9C626.5,180.4 624.2,180.3 622.1,180.6C620.0,180.9 617.6,181.8 615.8,181.8C614.0,181.8 612.7,181.6 611.4,180.6C610.2,179.5 608.6,177.1 608.3,175.5Z" fill="#6e6ef5"/>
<path d="M593.3,219.4C594.4,224.0 597.8,221.6 600.0,221.9C602.2,222.2 604.5,222.1 606.7,221.1C608.9,220.1 611.4,218.0 613.4,216.1C615.3,214.1 617.0,211.6 618.4,209.4C619.8,207.1 620.9,204.9 621.8,202.7C622.6,200.5 623.7,198.0 623.4,196.0C623.1,194.0 622.0,192.1 620.1,191.0C618.1,189.9 614.8,189.3 611.7,189.3C608.7,189.3 604.8,190.1 601.7,191.0C598.6,191.8 594.7,189.6 593.3,194.3C591.9,199.1 592.2,214.8 593.3,219.4Z" fill="#6e6ef5"/>
<path d="M574.0,364.2C573.6,362.9 572.9,360.8 573.2,359.2C573.5,357.5 574.4,355.7 575.7,354.2C576.9,352.6 578.8,351.2 580.7,350.0C582.7,348.7 585.0,347.7 587.4,346.6C589.8,345.5 592.9,343.6 595.1,343.3C597.3,343.0 599.8,342.7 600.8,345.0C601.7,347.2 601.7,354.5 600.8,356.7C599.8,358.8 596.8,357.4 595.1,357.8C593.4,358.2 592.3,358.4 590.7,359.2C589.2,359.9 587.1,361.1 585.7,362.5C584.3,363.9 583.5,366.4 582.4,367.5C581.3,368.6 580.2,369.3 579.0,369.2C577.9,369.1 576.5,367.5 575.7,366.7C574.9,365.9 574.4,365.4 574.0,364.2Z" fill="#6e6ef5"/>
<path d="M573.7,360.6C573.9,359.2 574.6,357.1 575.6,355.6C576.5,354.1 577.9,352.8 579.4,351.8C580.8,350.9 582.9,350.2 584.4,349.9C585.9,349.7 587.2,350.7 588.2,350.6C589.1,350.5 589.2,349.8 590.0,349.3C590.9,348.8 591.8,347.9 593.2,347.4C594.6,347.0 597.0,346.5 598.2,346.8C599.5,347.1 600.1,348.1 600.7,349.3C601.4,350.6 602.2,353.1 602.0,354.4C601.8,355.6 600.7,356.2 599.5,356.9C598.2,357.5 596.0,357.7 594.4,358.1C592.9,358.5 591.4,358.8 590.0,359.4C588.7,360.0 587.3,360.7 586.3,361.9C585.2,363.1 584.7,365.1 583.8,366.3C582.8,367.5 581.8,368.6 580.6,368.8C579.5,369.0 577.9,368.3 576.8,367.6C575.8,366.8 574.8,365.6 574.3,364.4C573.8,363.3 573.5,362.1 573.7,360.6Z" fill="#6e6ef5"/>
<path d="M597.6,388.3C597.8,387.4 600.6,388.3 602.0,387.7C603.4,387.1 604.5,385.1 605.8,384.8C607.0,384.5 608.1,385.5 609.5,385.8C611.0,386.1 613.1,386.0 614.6,386.4C616.0,386.8 617.2,387.5 618.3,388.3C619.5,389.2 620.4,390.6 621.5,391.5C622.5,392.3 623.3,393.0 624.6,393.3C626.0,393.7 628.2,393.7 629.7,393.3C631.1,393.0 632.7,392.3 633.4,391.5C634.2,390.6 633.4,389.2 634.1,388.3C634.7,387.5 636.3,386.6 637.2,386.4C638.2,386.2 639.4,386.1 639.7,387.1C640.0,388.0 639.3,390.4 639.1,392.1C638.9,393.8 638.4,395.4 638.5,397.1C638.6,398.8 638.9,400.7 639.7,402.2C640.6,403.6 642.5,404.7 643.5,405.9C644.6,407.2 645.0,409.3 646.0,409.7C647.1,410.1 648.5,408.2 649.8,408.4C651.1,408.6 653.0,409.7 653.6,411.0C654.1,412.2 653.6,414.5 652.9,416.0C652.3,417.5 651.2,419.1 649.8,419.8C648.4,420.4 646.4,420.2 644.8,419.8C643.1,419.3 641.4,418.3 639.7,417.2C638.1,416.2 636.2,414.5 634.7,413.5C633.2,412.4 632.4,411.2 630.9,411.0C629.5,410.7 627.6,412.2 625.9,412.2C624.2,412.2 622.3,411.6 620.9,411.0C619.4,410.3 618.1,409.5 617.1,408.4C616.0,407.4 615.2,405.9 614.6,404.7C613.9,403.4 614.2,401.7 613.3,400.9C612.5,400.1 610.8,400.3 609.5,399.6C608.3,399.0 607.2,398.2 605.8,397.1C604.3,396.1 602.1,394.8 600.7,393.3C599.4,391.9 597.4,389.3 597.6,388.3Z" fill="#6e6ef5"/>
<path d="M691.2,359.2C691.4,356.9 688.8,354.7 688.6,352.5C688.5,350.2 689.5,348.0 690.3,345.8C691.2,343.6 692.5,341.1 693.7,339.1C694.8,337.1 695.3,335.3 697.0,334.1C698.7,332.8 701.2,332.3 703.7,331.6C706.2,330.9 709.5,330.6 712.1,329.9C714.6,329.2 716.0,328.1 718.7,327.4C721.5,326.7 728.8,325.7 728.8,325.7C728.8,325.7 728.8,409.3 728.8,409.3C728.8,409.3 721.5,409.8 718.7,409.3C716.0,408.9 714.0,407.9 712.1,406.8C710.1,405.7 708.4,404.5 707.0,402.6C705.6,400.8 704.5,398.2 703.7,396.0C702.9,393.7 702.9,390.7 702.0,389.3C701.2,387.9 699.8,388.7 698.7,387.6C697.6,386.5 696.3,384.3 695.3,382.6C694.4,380.9 693.9,378.7 692.8,377.6C691.7,376.4 689.8,376.7 688.6,375.9C687.5,375.1 686.4,374.2 686.1,372.5C685.9,370.9 686.1,368.1 687.0,365.9C687.8,363.6 690.9,361.4 691.2,359.2Z" fill="#6e6ef5"/>
<path d="M732.1,86.3C732.1,86.3 725.9,85.8 723.1,86.3C720.3,86.9 717.5,88.3 715.4,89.7C713.3,91.1 712.1,92.8 710.4,94.7C708.7,96.7 706.9,99.2 705.4,101.4C703.8,103.6 702.3,105.7 701.2,108.1C700.1,110.5 699.4,113.1 698.7,115.6C698.0,118.1 697.7,121.0 697.0,123.1C696.3,125.2 695.9,126.8 694.5,128.2C693.1,129.5 690.6,130.2 688.6,131.5C686.7,132.7 684.0,134.1 682.8,135.7C681.5,137.2 681.0,139.4 681.1,140.7C681.3,141.9 682.1,143.1 683.6,143.2C685.2,143.3 688.1,141.7 690.3,141.5C692.5,141.4 695.3,141.5 697.0,142.4C698.7,143.2 699.5,144.7 700.4,146.5C701.2,148.4 701.5,150.7 702.0,153.2C702.6,155.7 703.7,158.8 703.7,161.6C703.7,164.4 702.7,167.4 702.0,170.0C701.3,172.5 699.9,174.1 699.5,176.6C699.1,179.2 699.4,182.5 699.5,185.0C699.7,187.5 700.2,189.9 700.4,191.7C700.5,193.5 700.4,194.3 700.7,196.0C701.0,197.7 701.1,200.0 702.0,201.9C702.9,203.7 705.0,206.1 706.2,206.9C707.4,207.6 708.4,205.4 709.0,206.4C709.7,207.3 709.6,210.5 710.4,212.7C711.2,214.9 712.3,217.9 713.7,219.4C715.1,220.9 717.2,221.4 718.7,221.9C720.3,222.4 720.9,222.3 723.1,222.4C725.3,222.5 732.1,222.4 732.1,222.4C732.1,222.4 732.1,86.3 732.1,86.3Z" fill="#b4c3fa"/>
<path d="M661.9,146.5C661.2,145.3 661.1,142.1 661.1,139.9C661.1,137.6 661.2,135.1 661.9,133.2C662.6,131.2 664.0,129.5 665.2,128.2C666.5,126.8 668.3,126.2 669.4,124.8C670.5,123.4 671.2,120.1 671.9,119.8C672.6,119.5 673.2,121.7 673.6,123.1C674.0,124.5 673.7,126.8 674.4,128.2C675.1,129.5 676.9,130.4 677.8,131.5C678.6,132.6 679.6,133.6 679.4,134.8C679.3,136.1 678.1,137.9 676.9,139.0C675.8,140.1 674.2,140.7 672.8,141.5C671.4,142.4 669.8,143.1 668.6,144.0C667.3,145.0 666.3,147.0 665.2,147.4C664.1,147.8 662.6,147.8 661.9,146.5Z" fill="#b4c3fa"/>
<path d="M588.2,196.0C588.5,195.0 589.3,193.4 590.8,192.5C592.2,191.6 595.0,190.6 597.0,190.5C599.0,190.4 601.5,191.0 602.5,191.8C603.5,192.5 603.8,194.0 603.2,195.0C602.8,196.0 601.2,197.2 599.5,198.0C597.8,198.8 594.9,199.6 593.2,199.8C591.6,199.9 590.3,199.4 589.5,198.8C588.7,198.1 588.0,197.0 588.2,196.0Z" fill="#b4c3fa"/>
<path d="M473.7,137.8C473.6,137.3 474.8,136.2 475.4,136.2C475.9,136.1 477.0,137.0 477.0,137.5C477.1,138.1 476.3,139.5 475.7,139.5C475.1,139.6 473.7,138.4 473.7,137.8Z" fill="#b4c3fa"/>
<path d="M530.5,244.5C530.4,243.1 530.7,241.3 531.4,240.3C532.1,239.3 533.8,238.5 534.7,238.6C535.7,238.8 536.8,239.9 537.2,241.2C537.7,242.4 537.5,244.8 537.2,246.2C537.0,247.6 536.4,249.1 535.6,249.5C534.7,249.9 533.1,249.5 532.2,248.7C531.4,247.8 530.7,245.9 530.5,244.5Z" fill="#b4c3fa"/>
<path d="M510.1,291.3C510.0,289.2 509.4,287.1 509.6,284.6C509.8,282.1 510.5,278.8 511.3,276.3C512.2,273.8 513.4,271.3 514.7,269.6C515.9,267.9 517.3,266.5 518.8,266.2C520.4,266.0 522.5,266.8 523.9,267.9C525.2,269.0 526.3,271.3 526.9,272.9C527.4,274.6 527.6,276.3 527.2,277.9C526.8,279.6 525.5,281.3 524.7,283.0C523.9,284.6 523.2,286.3 522.2,288.0C521.2,289.6 520.0,291.6 518.8,293.0C517.7,294.4 516.6,295.1 515.5,296.3C514.4,297.6 513.3,300.4 512.5,300.5C511.6,300.7 510.9,298.7 510.5,297.2C510.1,295.6 510.3,293.4 510.1,291.3Z" fill="#b4c3fa"/>
<path d="M573.2,296.3C573.0,294.3 573.5,291.5 574.0,289.6C574.6,287.8 575.4,286.0 576.5,285.5C577.6,284.9 579.6,285.5 580.7,286.3C581.8,287.1 582.9,288.8 583.2,290.5C583.5,292.2 583.1,294.7 582.4,296.3C581.7,298.0 580.3,299.6 579.0,300.5C577.8,301.4 575.8,302.4 574.9,301.7C573.9,301.0 573.3,298.3 573.2,296.3Z" fill="#b4c3fa"/>
<path d="M589.6,311.4C588.9,309.7 589.4,305.3 589.9,303.0C590.4,300.8 591.6,299.1 592.4,298.0C593.3,296.9 594.0,296.5 595.1,296.3C596.2,296.2 597.9,296.5 599.1,297.2C600.3,297.9 602.2,299.3 602.5,300.5C602.7,301.8 601.8,303.2 600.8,304.7C599.8,306.2 597.7,308.3 596.6,309.7C595.5,311.1 595.3,312.8 594.1,313.1C592.9,313.3 590.3,313.1 589.6,311.4Z" fill="#b4c3fa"/>
<path d="M533.1,309.0C533.2,308.1 533.8,306.0 534.7,305.5C535.7,305.1 537.4,306.4 538.9,306.4C540.4,306.4 542.3,306.4 543.9,305.5C545.6,304.7 547.4,301.8 548.9,301.4C550.5,300.9 552.2,301.7 553.1,303.0C554.0,304.3 554.0,307.4 554.3,309.0C554.6,310.7 554.8,311.9 554.8,313.1C554.7,314.2 554.7,314.5 554.0,315.7C553.3,317.0 552.0,319.4 550.6,320.7C549.2,322.1 547.3,323.5 545.6,323.8C543.9,324.0 542.0,323.5 540.6,322.4C539.2,321.4 538.3,319.2 537.2,317.4C536.1,315.6 534.6,312.8 533.9,311.4C533.2,310.0 532.9,310.0 533.1,309.0Z" fill="#b4c3fa"/>
<path d="M620.1,309.0C621.3,307.2 622.0,304.6 623.4,303.0C624.8,301.5 626.5,300.5 628.4,299.7C630.4,298.8 632.9,298.4 635.1,298.0C637.4,297.6 640.2,298.0 641.8,297.2C643.5,296.3 644.3,294.8 645.2,293.0C646.0,291.2 646.7,288.5 646.8,286.3C647.0,284.1 646.3,282.1 646.0,279.6C645.7,277.1 645.0,273.5 645.2,271.3C645.3,269.0 645.7,267.6 646.8,266.2C648.0,264.8 650.5,264.3 651.9,262.9C653.2,261.5 653.9,259.7 655.2,257.9C656.5,256.1 658.0,253.3 659.4,252.0C660.8,250.8 662.3,250.1 663.6,250.3C664.8,250.6 666.1,252.3 666.9,253.7C667.7,255.1 667.5,257.6 668.6,258.7C669.7,259.8 671.6,260.0 673.6,260.4C675.5,260.8 678.1,260.5 680.3,261.2C682.5,261.9 685.0,263.2 687.0,264.6C688.9,266.0 690.6,267.6 692.0,269.6C693.4,271.5 694.6,274.0 695.3,276.3C696.0,278.5 696.4,280.7 696.2,283.0C695.9,285.2 693.8,287.7 693.7,289.6C693.5,291.6 694.8,293.0 695.3,294.7C695.9,296.3 697.3,298.1 697.0,299.7C696.7,301.2 695.1,302.7 693.7,303.9C692.3,305.0 689.9,305.5 688.6,306.4C687.4,307.2 686.7,307.5 686.1,309.0C685.6,310.6 686.0,313.2 685.3,315.7C684.6,318.2 683.6,322.0 682.0,324.1C680.3,326.1 677.5,326.8 675.3,328.2C673.0,329.6 670.5,330.6 668.6,332.4C666.6,334.2 664.8,336.9 663.6,339.1C662.3,341.3 661.8,343.3 661.1,345.8C660.4,348.3 660.1,351.6 659.4,354.2C658.7,356.7 657.8,358.9 656.9,360.8C655.9,362.8 654.6,364.2 653.5,365.9C652.4,367.5 651.0,369.2 650.2,370.9C649.3,372.5 649.3,373.9 648.5,375.9C647.7,377.8 646.1,380.9 645.2,382.6C644.2,384.3 643.5,385.4 642.7,386.3C641.8,387.1 640.3,388.1 640.2,387.6C640.0,387.1 641.5,384.7 641.8,383.4C642.2,382.2 642.4,379.4 642.2,380.1C641.9,380.8 641.4,386.2 640.2,387.6C638.9,389.0 635.4,387.7 634.5,388.4C633.6,389.1 635.0,390.4 634.8,391.8C634.6,393.2 635.6,396.0 633.5,396.8C631.3,397.6 625.0,396.8 621.8,396.8C618.5,396.8 615.1,397.5 613.7,396.8C612.3,396.1 614.0,393.9 613.4,392.6C612.8,391.4 611.2,390.5 610.1,389.3C608.9,388.0 607.4,386.6 606.7,385.1C606.0,383.6 605.9,382.4 605.9,380.1C605.9,377.7 606.7,373.8 606.7,370.9C606.7,367.9 606.4,365.0 605.9,362.5C605.3,360.0 604.3,357.8 603.4,355.8C602.4,353.9 600.3,352.6 600.0,350.8C599.7,349.0 600.6,346.6 601.7,345.0C602.8,343.3 605.2,342.6 606.7,340.8C608.2,339.0 609.8,336.3 610.9,334.1C612.0,331.9 612.8,329.6 613.4,327.4C614.0,325.2 613.8,322.9 614.2,320.7C614.6,318.5 614.9,316.0 615.9,314.0C616.9,312.1 618.8,310.9 620.1,309.0Z" fill="#b4c3fa"/>
<path d="M698.7,357.5C697.9,356.1 697.8,353.9 698.3,352.5C698.9,351.1 700.3,349.8 702.0,349.1C703.8,348.4 706.9,348.6 708.7,348.3C710.5,348.0 711.8,347.2 712.9,347.5C714.0,347.7 715.1,348.7 715.4,350.0C715.7,351.2 715.4,353.6 714.6,355.0C713.7,356.4 711.8,357.1 710.4,358.3C709.0,359.6 707.5,362.1 706.2,362.5C704.9,362.9 704.1,361.7 702.9,360.8C701.6,360.0 699.4,358.9 698.7,357.5Z" fill="#b4c3fa"/>
<path d="M689.0,373.4C689.1,372.5 690.2,371.1 691.2,370.9C692.2,370.7 694.4,371.4 695.0,372.2C695.6,373.0 695.2,374.9 694.5,375.6C693.8,376.2 691.6,376.3 690.7,375.9C689.7,375.5 688.9,374.2 689.0,373.4Z" fill="#b4c3fa"/>
<path d="M703.7,389.3C703.3,387.0 703.8,384.8 704.5,382.6C705.2,380.3 706.6,377.4 707.9,375.9C709.1,374.4 710.2,373.9 712.1,373.4C713.9,372.8 716.2,372.7 718.7,372.5C721.3,372.4 727.1,372.2 727.1,372.2C727.1,372.2 727.1,402.6 727.1,402.6C727.1,402.6 721.3,402.4 718.7,401.8C716.2,401.3 714.0,400.3 712.1,399.3C710.1,398.3 708.4,397.6 707.0,396.0C705.6,394.3 704.1,391.5 703.7,389.3Z" fill="#b4c3fa"/>
<path d="M546.9,336.6C546.4,335.1 546.1,333.2 546.4,331.6C546.8,329.9 547.7,328.0 548.9,326.6C550.2,325.2 552.3,324.1 554.0,323.2C555.6,322.4 557.4,321.4 559.0,321.5C560.5,321.7 562.2,322.9 563.2,324.1C564.1,325.2 564.8,326.7 564.8,328.2C564.8,329.8 564.1,331.9 563.2,333.2C562.2,334.6 560.5,335.6 559.0,336.6C557.4,337.6 555.5,338.4 554.0,339.1C552.4,339.8 550.9,341.2 549.8,340.8C548.6,340.4 547.5,338.1 546.9,336.6Z" fill="#b4c3fa"/>
<path d="M570.7,324.1C570.8,323.1 572.6,322.0 574.0,320.7C575.4,319.5 577.4,318.1 579.0,316.5C580.7,315.0 582.5,312.6 584.1,311.5C585.6,310.4 587.3,309.4 588.2,309.8C589.2,310.3 589.9,312.5 589.9,314.0C589.9,315.5 588.9,317.2 588.2,319.0C587.5,320.8 586.7,323.1 585.7,324.9C584.8,326.7 583.8,329.5 582.4,329.9C581.0,330.3 578.9,328.0 577.4,327.4C575.8,326.8 574.3,327.1 573.2,326.6C572.1,326.0 570.5,325.0 570.7,324.1Z" fill="#b4c3fa"/>
<path d="M589.9,354.2C589.6,352.9 589.9,350.7 590.7,349.1C591.6,347.6 594.0,345.1 595.1,345.0C596.2,344.8 597.3,347.0 597.4,348.3C597.5,349.6 596.6,351.4 595.8,352.8C594.9,354.2 593.4,356.4 592.4,356.7C591.4,356.9 590.2,355.4 589.9,354.2Z" fill="#b4c3fa"/>
<path d="M589.2,353.1C589.1,352.3 589.8,350.7 590.7,349.9C591.6,349.2 593.2,348.4 594.4,348.3C595.7,348.3 597.4,348.9 598.0,349.6C598.5,350.3 598.2,351.7 597.6,352.5C597.0,353.3 595.6,353.9 594.4,354.4C593.3,354.8 591.8,355.2 590.9,355.0C590.0,354.8 589.2,353.9 589.2,353.1Z" fill="#b4c3fa"/>
<path d="M646.5,412.0C646.5,411.5 647.5,410.5 648.0,410.5C648.5,410.5 649.5,411.5 649.5,412.0C649.5,412.5 648.5,413.5 648.0,413.5C647.5,413.5 646.5,412.5 646.5,412.0Z" fill="#b4c3fa"/>
<path d="M717.4,158.3C717.8,156.7 718.4,156.9 719.6,156.6C720.8,156.3 724.6,156.6 724.6,156.6C724.6,156.6 724.6,168.3 724.6,168.3C724.6,168.3 720.8,168.7 719.6,168.3C718.4,167.9 717.8,167.4 717.4,165.8C717.0,164.1 717.0,159.8 717.4,158.3Z" fill="#ffffff"/>
<path d="M600.7,208.3C600.7,207.2 601.8,206.0 602.6,205.5C603.5,205.0 604.9,204.8 605.8,205.1C606.6,205.5 607.5,206.6 607.7,207.6C607.8,208.7 607.2,210.7 606.4,211.4C605.6,212.1 603.6,212.5 602.6,212.0C601.7,211.5 600.7,209.3 600.7,208.3Z" fill="#0f5af5"/>
<path d="M600.9,208.5C600.9,207.5 601.7,206.3 602.5,205.7C603.4,205.1 605.0,204.8 605.9,205.2C606.7,205.6 607.6,207.0 607.7,208.0C607.8,209.1 607.2,210.7 606.4,211.4C605.5,212.0 603.4,212.4 602.5,211.9C601.6,211.4 600.9,209.6 600.9,208.5Z" fill="#0f5af5"/>
<path d="M680.9,126.4C681.3,125.6 682.4,124.4 683.5,123.9C684.5,123.3 686.1,122.9 687.2,123.0C688.4,123.1 689.9,123.7 690.4,124.5C690.9,125.3 690.9,126.8 690.4,127.7C689.9,128.5 688.4,129.2 687.2,129.5C686.1,129.9 684.4,130.0 683.5,129.8C682.5,129.6 681.7,129.1 681.3,128.5C680.9,128.0 680.6,127.2 680.9,126.4Z" fill="#0f5af5"/>
<path d="M548.1,76.3C548.1,76.3 548.7,81.0 548.1,83.0C547.5,85.0 545.8,86.0 544.6,88.0C543.4,90.0 542.6,92.7 540.7,94.9C538.9,97.1 536.0,99.1 533.2,101.2C530.5,103.3 527.3,105.5 524.4,107.6C521.5,109.7 518.4,111.8 515.8,113.8C513.2,115.7 510.5,117.6 508.6,119.5C506.7,121.4 505.4,123.1 504.5,125.1C503.5,127.1 503.3,129.4 503.0,131.5C502.6,133.6 502.5,135.5 502.1,137.7C501.7,139.9 501.3,142.4 500.4,144.7C499.6,147.0 498.2,149.2 497.1,151.6C496.0,154.0 494.8,156.7 493.8,159.1C492.7,161.5 492.2,164.0 490.7,166.1C489.3,168.2 486.3,169.8 485.1,171.8C483.8,173.8 483.7,175.7 483.1,178.0C482.4,180.3 482.0,183.1 481.4,185.7C480.8,188.2 480.0,190.7 479.5,193.2C479.0,195.7 478.5,198.4 478.4,200.7C478.3,203.0 478.6,205.5 478.9,206.9C479.2,208.3 479.5,208.5 480.2,208.9C481.0,209.3 482.0,209.4 483.4,209.4C484.8,209.4 487.0,209.3 488.4,208.9C489.9,208.5 491.1,208.1 492.1,206.9C493.1,205.7 493.8,203.8 494.6,201.9C495.3,200.0 496.0,197.8 496.6,195.7C497.2,193.6 498.1,191.1 498.4,189.4C498.8,187.6 498.1,187.4 498.8,185.5C499.5,183.6 500.9,180.0 502.6,177.9C504.3,175.8 506.8,174.6 508.9,172.9C511.0,171.2 513.1,169.5 515.2,167.9C517.3,166.2 519.4,164.5 521.4,162.8C523.5,161.2 525.6,159.5 527.7,157.8C529.8,156.1 531.9,154.4 534.0,152.8C536.1,151.1 538.4,149.4 540.3,147.7C542.2,146.1 543.9,144.2 545.3,142.7C546.8,141.2 548.3,139.9 549.1,138.9C549.9,138.0 549.9,136.4 550.1,137.0C550.4,137.7 550.8,140.5 550.6,142.7C550.5,144.9 550.0,147.7 549.4,150.3C548.7,152.8 547.9,155.3 546.9,157.8C545.8,160.3 544.3,163.0 543.1,165.3C541.8,167.7 540.6,169.5 539.3,171.6C538.1,173.7 536.8,175.8 535.5,177.9C534.3,180.0 533.0,182.1 531.8,184.2C530.5,186.3 529.0,188.7 528.0,190.5C527.0,192.3 526.8,194.1 525.8,195.0C524.9,196.0 523.0,195.1 522.2,196.0C521.4,197.0 520.6,200.2 521.0,200.7C521.4,201.3 523.4,200.4 524.7,199.2C526.0,198.1 526.9,194.7 528.9,193.7C530.8,192.7 534.6,193.8 536.5,193.0C538.4,192.3 539.1,190.7 540.3,189.2C541.6,187.8 542.8,185.7 544.1,184.2C545.3,182.7 546.4,181.4 547.9,180.4C549.3,179.5 551.2,179.4 552.9,178.6C554.6,177.7 556.7,176.8 557.9,175.4C559.2,174.0 559.6,172.3 560.4,170.4C561.3,168.5 562.1,166.2 563.0,164.1C563.8,162.0 564.8,159.8 565.5,157.8C566.1,155.8 566.6,153.8 567.0,152.1C567.3,150.4 566.8,148.8 567.6,147.7C568.4,146.5 570.2,145.9 571.8,145.2C573.3,144.4 575.1,144.0 576.8,143.1C578.5,142.3 580.3,141.1 581.8,140.1C583.3,139.2 584.6,138.3 586.0,137.6C587.4,136.9 588.7,136.0 590.2,136.0C591.6,135.9 593.9,135.9 594.8,137.1C595.8,138.4 596.0,141.0 596.0,143.5C596.0,145.9 595.3,149.1 594.8,151.8C594.4,154.6 594.0,157.7 593.2,160.2C592.4,162.7 591.5,164.9 590.2,166.9C588.8,168.8 586.8,170.7 585.2,171.9C583.5,173.2 581.6,173.5 580.1,174.4C578.7,175.3 577.2,175.9 576.5,177.3C575.8,178.7 575.5,181.7 576.0,182.8C576.4,183.8 577.9,183.8 579.3,183.6C580.7,183.4 582.6,182.4 584.3,181.6C586.0,180.8 587.8,179.8 589.3,178.6C590.9,177.4 592.3,176.1 593.5,174.4C594.8,172.7 596.0,170.2 596.9,168.6C597.7,167.0 597.3,166.0 598.4,164.9C599.4,163.7 601.7,162.8 603.4,161.6C605.0,160.4 606.7,158.8 608.4,157.4C610.1,156.0 612.1,154.7 613.4,153.4C614.6,152.1 614.9,151.2 615.9,149.7C616.9,148.2 618.1,146.2 619.6,144.5C621.0,142.8 622.9,141.2 624.6,139.5C626.3,137.8 628.1,136.2 629.8,134.5C631.5,132.8 633.1,131.2 634.8,129.5C636.5,127.8 638.1,126.1 639.8,124.5C641.5,122.8 643.2,121.0 644.8,119.5C646.5,117.9 648.2,116.2 649.8,115.1C651.5,114.0 653.3,113.4 654.9,112.6C656.4,111.8 657.3,111.7 659.0,110.1C660.8,108.5 663.6,105.1 665.2,103.1C666.8,101.1 667.2,100.0 668.6,98.1C670.0,96.1 671.9,93.3 673.6,91.4C675.3,89.4 677.5,87.7 678.6,86.3C679.7,85.0 680.0,84.7 680.3,83.0C680.6,81.3 680.3,76.3 680.3,76.3C680.3,76.3 548.1,76.3 548.1,76.3Z" fill="none" stroke="#0f8c8c" stroke-width="2.6" stroke-linejoin="round"/>
<path d="M504.6,375.1C504.7,374.2 505.2,372.8 505.8,372.2C506.4,371.7 507.7,371.4 508.5,371.7C509.3,372.0 510.2,373.2 510.5,374.2C510.8,375.2 510.6,376.8 510.1,377.6C509.6,378.3 508.3,378.9 507.5,378.9C506.6,378.9 505.6,378.2 505.1,377.6C504.7,376.9 504.5,375.9 504.6,375.1Z" fill="none" stroke="#0f8c8c" stroke-width="3.4" stroke-linejoin="round"/>
<path d="M513.0,404.3C513.0,403.2 513.3,401.7 514.2,401.0C515.0,400.3 516.7,400.0 518.0,400.1C519.3,400.3 521.3,400.8 522.2,401.8C523.1,402.8 523.7,404.8 523.5,406.0C523.4,407.2 522.4,408.4 521.3,409.0C520.3,409.6 518.4,409.6 517.2,409.3C516.0,409.1 514.9,408.5 514.2,407.7C513.5,406.8 513.0,405.4 513.0,404.3Z" fill="none" stroke="#0f8c8c" stroke-width="3.4" stroke-linejoin="round"/>
<path d="M563.9,410.2C563.6,409.2 563.9,407.4 564.5,406.4C565.2,405.3 566.3,404.4 567.7,403.9C569.0,403.3 571.0,403.2 572.7,403.2C574.4,403.2 576.1,404.0 577.7,403.9C579.4,403.8 581.1,403.2 582.8,402.6C584.4,402.0 586.3,400.6 587.8,400.1C589.3,399.6 590.3,399.3 591.6,399.5C592.8,399.7 594.2,400.4 595.3,401.4C596.5,402.3 597.4,403.7 598.5,405.1C599.5,406.6 600.5,408.5 601.6,410.2C602.8,411.8 604.0,413.5 605.4,415.2C606.8,416.9 608.3,418.8 609.8,420.2C611.3,421.7 612.9,422.9 614.2,424.0C615.6,425.0 617.8,425.9 618.0,426.5C618.2,427.1 616.7,427.7 615.5,427.8C614.2,427.9 612.1,427.6 610.4,427.1C608.8,426.7 607.1,426.0 605.4,425.3C603.7,424.5 602.1,423.8 600.4,422.7C598.7,421.7 597.0,420.3 595.3,419.0C593.7,417.6 592.0,415.9 590.3,414.6C588.6,413.2 587.0,411.7 585.3,410.8C583.6,409.8 581.9,409.2 580.3,408.9C578.6,408.6 576.9,408.6 575.2,408.9C573.5,409.2 571.7,410.3 570.2,410.8C568.7,411.3 567.5,412.1 566.4,412.0C565.4,411.9 564.2,411.1 563.9,410.2Z" fill="none" stroke="#0f8c8c" stroke-width="3.4" stroke-linejoin="round"/>
<path d="M652.7,430.2C652.4,428.5 653.1,425.7 653.5,423.5C654.0,421.2 655.3,419.0 655.5,416.8C655.8,414.6 655.1,412.3 654.9,410.1C654.7,407.9 654.3,405.6 654.4,403.4C654.5,401.2 655.0,398.7 655.5,396.7C656.1,394.8 656.9,392.9 657.7,391.7C658.5,390.5 659.6,389.7 660.6,389.7C661.5,389.7 662.5,390.3 663.6,391.7C664.6,393.2 665.8,396.4 666.9,398.4C668.0,400.3 669.5,401.5 670.3,403.4C671.0,405.4 671.3,408.0 671.6,410.1C671.9,412.2 672.5,414.1 672.3,416.0C672.0,417.8 671.1,419.6 670.3,421.0C669.4,422.4 668.0,423.1 666.9,424.3C665.8,425.6 664.8,427.1 663.6,428.5C662.3,429.9 660.8,431.8 659.4,432.7C658.0,433.5 656.3,433.9 655.2,433.5C654.1,433.1 653.0,431.8 652.7,430.2Z" fill="none" stroke="#0f8c8c" stroke-width="3.4" stroke-linejoin="round"/>
<path d="M668.6,425.2C669.3,423.9 671.6,421.9 673.6,421.0C675.5,420.0 678.1,419.4 680.3,419.3C682.5,419.2 684.7,419.7 687.0,420.1C689.2,420.6 692.0,421.1 693.7,421.8C695.3,422.5 697.0,423.3 697.0,424.3C697.0,425.3 695.3,427.0 693.7,427.7C692.0,428.4 689.2,428.5 687.0,428.5C684.7,428.5 682.5,427.7 680.3,427.7C678.1,427.7 675.4,428.4 673.6,428.5C671.8,428.6 670.3,429.1 669.4,428.5C668.6,427.9 667.9,426.4 668.6,425.2Z" fill="none" stroke="#0f8c8c" stroke-width="3.4" stroke-linejoin="round"/>
<path d="M703.7,421.8C703.7,420.4 704.3,418.7 705.4,417.6C706.5,416.6 708.4,415.8 710.4,415.5C712.3,415.1 714.3,415.2 717.1,415.5C719.9,415.7 727.1,416.8 727.1,416.8C727.1,416.8 727.1,428.5 727.1,428.5C727.1,428.5 719.9,428.6 717.1,428.5C714.3,428.4 712.3,428.1 710.4,427.7C708.4,427.2 706.5,427.0 705.4,426.0C704.3,425.0 703.7,423.2 703.7,421.8Z" fill="none" stroke="#0f8c8c" stroke-width="3.4" stroke-linejoin="round"/>
<path d="M702.2,263.2C701.8,261.9 700.8,258.7 701.0,257.0C701.2,255.3 702.6,253.5 703.5,253.2C704.4,253.0 706.1,254.3 706.5,255.8C706.9,257.2 706.4,260.5 706.0,262.0C705.6,263.5 704.6,264.8 704.0,265.0C703.4,265.2 702.8,264.6 702.2,263.2Z" fill="none" stroke="#0f8c8c" stroke-width="3.4" stroke-linejoin="round"/>
<path d="M686.0,334.5C686.2,332.8 688.1,329.3 689.8,327.0C691.4,324.7 693.7,322.6 696.0,320.8C698.3,318.9 701.4,316.8 703.5,315.8C705.6,314.7 707.9,313.7 708.5,314.5C709.1,315.3 708.5,318.7 707.2,320.8C706.0,322.8 703.3,324.9 701.0,327.0C698.7,329.1 695.6,331.6 693.5,333.2C691.4,334.9 689.8,336.8 688.5,337.0C687.2,337.2 685.8,336.2 686.0,334.5Z" fill="none" stroke="#0f8c8c" stroke-width="3.4" stroke-linejoin="round"/>
<path d="M674.8,364.5C674.5,362.2 675.2,357.4 676.0,354.5C676.8,351.6 678.3,348.7 679.8,347.0C681.2,345.3 683.4,344.3 684.8,344.5C686.1,344.7 687.5,346.2 687.8,348.2C688.0,350.3 686.9,354.3 686.0,357.0C685.1,359.7 683.7,362.6 682.2,364.5C680.8,366.4 678.5,368.2 677.2,368.2C676.0,368.2 675.0,366.8 674.8,364.5Z" fill="none" stroke="#0f8c8c" stroke-width="3.4" stroke-linejoin="round"/>
<path d="M672.2,392.0C672.0,389.9 672.6,383.2 673.0,379.5C673.4,375.8 674.1,371.0 674.8,369.5C675.4,368.0 676.5,368.7 676.8,370.8C677.0,372.8 676.3,378.5 676.0,382.0C675.7,385.5 675.4,390.3 674.8,392.0C674.1,393.7 672.5,394.1 672.2,392.0Z" fill="none" stroke="#0f8c8c" stroke-width="3.4" stroke-linejoin="round"/>
<path d="M654.0,424.5C651.2,422.4 654.2,415.8 654.8,412.0C655.3,408.2 656.0,404.9 657.2,402.0C658.5,399.1 660.4,396.2 662.2,394.5C664.1,392.8 666.6,392.2 668.5,392.0C670.4,391.8 672.5,391.6 673.5,393.2C674.5,394.9 675.0,398.9 674.8,402.0C674.5,405.1 672.8,408.2 672.2,412.0C671.7,415.8 674.5,422.4 671.5,424.5C668.5,426.6 656.8,426.6 654.0,424.5Z" fill="none" stroke="#0f8c8c" stroke-width="3.4" stroke-linejoin="round"/>
<path d="M689.1,225.9C689.0,224.2 689.7,222.8 690.4,222.1C691.0,221.4 692.2,221.0 692.9,221.5C693.6,221.9 694.3,223.0 694.8,224.6C695.3,226.2 695.6,228.8 696.0,230.9C696.5,233.0 697.4,235.7 697.3,237.2C697.2,238.6 696.1,239.7 695.4,239.7C694.7,239.7 693.6,238.4 692.9,237.2C692.2,235.9 691.6,234.0 691.0,232.2C690.4,230.3 689.2,227.5 689.1,225.9Z" fill="none" stroke="#0f8c8c" stroke-width="3.4" stroke-linejoin="round"/>
<path d="M632.5,209.5C632.3,208.5 633.1,206.2 633.8,204.5C634.4,202.8 635.0,201.0 636.3,199.4C637.5,197.9 639.6,196.3 641.3,195.0C643.0,193.8 644.7,192.8 646.4,191.9C648.0,191.0 649.9,190.0 651.4,189.4C652.9,188.8 654.1,188.2 655.2,188.1C656.2,188.0 657.9,188.1 657.7,188.8C657.5,189.4 655.4,190.9 653.9,191.9C652.4,192.9 650.5,194.0 648.9,195.0C647.2,196.1 645.3,197.0 643.8,198.2C642.4,199.3 641.2,200.5 640.1,202.0C638.9,203.4 637.8,205.5 636.9,207.0C636.1,208.5 635.8,210.3 635.0,210.8C634.3,211.2 632.7,210.6 632.5,209.5Z" fill="none" stroke="#0f8c8c" stroke-width="3.4" stroke-linejoin="round"/>
<path d="M655.8,166.0C655.0,164.4 652.3,165.1 652.0,164.5C651.7,163.9 652.7,162.9 654.0,162.5C655.3,162.1 657.3,162.2 660.0,162.0C662.7,161.8 667.0,161.4 670.0,161.5C673.0,161.6 676.3,162.0 678.0,162.5C679.7,163.0 680.2,163.9 680.0,164.5C679.8,165.1 677.6,164.8 677.0,166.2C676.4,167.6 677.0,170.2 676.5,173.0C676.0,175.8 675.1,180.7 674.0,183.0C672.9,185.3 671.5,186.2 670.0,187.0C668.5,187.8 666.7,187.8 665.0,187.5C663.3,187.2 661.2,186.8 660.0,185.5C658.8,184.2 658.5,181.9 658.0,180.0C657.5,178.1 657.4,176.3 657.0,174.0C656.6,171.7 656.6,167.6 655.8,166.0Z" fill="none" stroke="#0f8c8c" stroke-width="3.4" stroke-linejoin="round"/>
<path d="M716.2,520.3C716.4,519.4 716.9,518.3 718.7,517.8C720.5,517.2 727.0,516.9 727.0,516.9C727.0,516.9 727.0,525.3 727.0,525.3C727.0,525.3 722.0,524.9 720.3,524.4C718.7,524.0 718.0,523.5 717.3,522.8C716.6,522.1 715.9,521.1 716.2,520.3Z" fill="none" stroke="#0f8c8c" stroke-width="3.4" stroke-linejoin="round"/>
<path d="M548.1,76.3C548.1,76.3 548.7,81.0 548.1,83.0C547.5,85.0 545.8,86.0 544.6,88.0C543.4,90.0 542.6,92.7 540.7,94.9C538.9,97.1 536.0,99.1 533.2,101.2C530.5,103.3 527.3,105.5 524.4,107.6C521.5,109.7 518.4,111.8 515.8,113.8C513.2,115.7 510.5,117.6 508.6,119.5C506.7,121.4 505.4,123.1 504.5,125.1C503.5,127.1 503.3,129.4 503.0,131.5C502.6,133.6 502.5,135.5 502.1,137.7C501.7,139.9 501.3,142.4 500.4,144.7C499.6,147.0 498.2,149.2 497.1,151.6C496.0,154.0 494.8,156.7 493.8,159.1C492.7,161.5 492.2,164.0 490.7,166.1C489.3,168.2 486.3,169.8 485.1,171.8C483.8,173.8 483.7,175.7 483.1,178.0C482.4,180.3 482.0,183.1 481.4,185.7C480.8,188.2 480.0,190.7 479.5,193.2C479.0,195.7 478.5,198.4 478.4,200.7C478.3,203.0 478.6,205.5 478.9,206.9C479.2,208.3 479.5,208.5 480.2,208.9C481.0,209.3 482.0,209.4 483.4,209.4C484.8,209.4 487.0,209.3 488.4,208.9C489.9,208.5 491.1,208.1 492.1,206.9C493.1,205.7 493.8,203.8 494.6,201.9C495.3,200.0 496.0,197.8 496.6,195.7C497.2,193.6 498.1,191.1 498.4,189.4C498.8,187.6 498.1,187.4 498.8,185.5C499.5,183.6 500.9,180.0 502.6,177.9C504.3,175.8 506.8,174.6 508.9,172.9C511.0,171.2 513.1,169.5 515.2,167.9C517.3,166.2 519.4,164.5 521.4,162.8C523.5,161.2 525.6,159.5 527.7,157.8C529.8,156.1 531.9,154.4 534.0,152.8C536.1,151.1 538.4,149.4 540.3,147.7C542.2,146.1 543.9,144.2 545.3,142.7C546.8,141.2 548.3,139.9 549.1,138.9C549.9,138.0 549.9,136.4 550.1,137.0C550.4,137.7 550.8,140.5 550.6,142.7C550.5,144.9 550.0,147.7 549.4,150.3C548.7,152.8 547.9,155.3 546.9,157.8C545.8,160.3 544.3,163.0 543.1,165.3C541.8,167.7 540.6,169.5 539.3,171.6C538.1,173.7 536.8,175.8 535.5,177.9C534.3,180.0 533.0,182.1 531.8,184.2C530.5,186.3 529.0,188.7 528.0,190.5C527.0,192.3 526.8,194.1 525.8,195.0C524.9,196.0 523.0,195.1 522.2,196.0C521.4,197.0 520.6,200.2 521.0,200.7C521.4,201.3 523.4,200.4 524.7,199.2C526.0,198.1 526.9,194.7 528.9,193.7C530.8,192.7 534.6,193.8 536.5,193.0C538.4,192.3 539.1,190.7 540.3,189.2C541.6,187.8 542.8,185.7 544.1,184.2C545.3,182.7 546.4,181.4 547.9,180.4C549.3,179.5 551.2,179.4 552.9,178.6C554.6,177.7 556.7,176.8 557.9,175.4C559.2,174.0 559.6,172.3 560.4,170.4C561.3,168.5 562.1,166.2 563.0,164.1C563.8,162.0 564.8,159.8 565.5,157.8C566.1,155.8 566.6,153.8 567.0,152.1C567.3,150.4 566.8,148.8 567.6,147.7C568.4,146.5 570.2,145.9 571.8,145.2C573.3,144.4 575.1,144.0 576.8,143.1C578.5,142.3 580.3,141.1 581.8,140.1C583.3,139.2 584.6,138.3 586.0,137.6C587.4,136.9 588.7,136.0 590.2,136.0C591.6,135.9 593.9,135.9 594.8,137.1C595.8,138.4 596.0,141.0 596.0,143.5C596.0,145.9 595.3,149.1 594.8,151.8C594.4,154.6 594.0,157.7 593.2,160.2C592.4,162.7 591.5,164.9 590.2,166.9C588.8,168.8 586.8,170.7 585.2,171.9C583.5,173.2 581.6,173.5 580.1,174.4C578.7,175.3 577.2,175.9 576.5,177.3C575.8,178.7 575.5,181.7 576.0,182.8C576.4,183.8 577.9,183.8 579.3,183.6C580.7,183.4 582.6,182.4 584.3,181.6C586.0,180.8 587.8,179.8 589.3,178.6C590.9,177.4 592.3,176.1 593.5,174.4C594.8,172.7 596.0,170.2 596.9,168.6C597.7,167.0 597.3,166.0 598.4,164.9C599.4,163.7 601.7,162.8 603.4,161.6C605.0,160.4 606.7,158.8 608.4,157.4C610.1,156.0 612.1,154.7 613.4,153.4C614.6,152.1 614.9,151.2 615.9,149.7C616.9,148.2 618.1,146.2 619.6,144.5C621.0,142.8 622.9,141.2 624.6,139.5C626.3,137.8 628.1,136.2 629.8,134.5C631.5,132.8 633.1,131.2 634.8,129.5C636.5,127.8 638.1,126.1 639.8,124.5C641.5,122.8 643.2,121.0 644.8,119.5C646.5,117.9 648.2,116.2 649.8,115.1C651.5,114.0 653.3,113.4 654.9,112.6C656.4,111.8 657.3,111.7 659.0,110.1C660.8,108.5 663.6,105.1 665.2,103.1C666.8,101.1 667.2,100.0 668.6,98.1C670.0,96.1 671.9,93.3 673.6,91.4C675.3,89.4 677.5,87.7 678.6,86.3C679.7,85.0 680.0,84.7 680.3,83.0C680.6,81.3 680.3,76.3 680.3,76.3C680.3,76.3 548.1,76.3 548.1,76.3Z" fill="#0ac832"/>
<path d="M504.6,375.1C504.7,374.2 505.2,372.8 505.8,372.2C506.4,371.7 507.7,371.4 508.5,371.7C509.3,372.0 510.2,373.2 510.5,374.2C510.8,375.2 510.6,376.8 510.1,377.6C509.6,378.3 508.3,378.9 507.5,378.9C506.6,378.9 505.6,378.2 505.1,377.6C504.7,376.9 504.5,375.9 504.6,375.1Z" fill="#0ac832"/>
<path d="M513.0,404.3C513.0,403.2 513.3,401.7 514.2,401.0C515.0,400.3 516.7,400.0 518.0,400.1C519.3,400.3 521.3,400.8 522.2,401.8C523.1,402.8 523.7,404.8 523.5,406.0C523.4,407.2 522.4,408.4 521.3,409.0C520.3,409.6 518.4,409.6 517.2,409.3C516.0,409.1 514.9,408.5 514.2,407.7C513.5,406.8 513.0,405.4 513.0,404.3Z" fill="#0ac832"/>
<path d="M563.9,410.2C563.6,409.2 563.9,407.4 564.5,406.4C565.2,405.3 566.3,404.4 567.7,403.9C569.0,403.3 571.0,403.2 572.7,403.2C574.4,403.2 576.1,404.0 577.7,403.9C579.4,403.8 581.1,403.2 582.8,402.6C584.4,402.0 586.3,400.6 587.8,400.1C589.3,399.6 590.3,399.3 591.6,399.5C592.8,399.7 594.2,400.4 595.3,401.4C596.5,402.3 597.4,403.7 598.5,405.1C599.5,406.6 600.5,408.5 601.6,410.2C602.8,411.8 604.0,413.5 605.4,415.2C606.8,416.9 608.3,418.8 609.8,420.2C611.3,421.7 612.9,422.9 614.2,424.0C615.6,425.0 617.8,425.9 618.0,426.5C618.2,427.1 616.7,427.7 615.5,427.8C614.2,427.9 612.1,427.6 610.4,427.1C608.8,426.7 607.1,426.0 605.4,425.3C603.7,424.5 602.1,423.8 600.4,422.7C598.7,421.7 597.0,420.3 595.3,419.0C593.7,417.6 592.0,415.9 590.3,414.6C588.6,413.2 587.0,411.7 585.3,410.8C583.6,409.8 581.9,409.2 580.3,408.9C578.6,408.6 576.9,408.6 575.2,408.9C573.5,409.2 571.7,410.3 570.2,410.8C568.7,411.3 567.5,412.1 566.4,412.0C565.4,411.9 564.2,411.1 563.9,410.2Z" fill="#0ac832"/>
<path d="M652.7,430.2C652.4,428.5 653.1,425.7 653.5,423.5C654.0,421.2 655.3,419.0 655.5,416.8C655.8,414.6 655.1,412.3 654.9,410.1C654.7,407.9 654.3,405.6 654.4,403.4C654.5,401.2 655.0,398.7 655.5,396.7C656.1,394.8 656.9,392.9 657.7,391.7C658.5,390.5 659.6,389.7 660.6,389.7C661.5,389.7 662.5,390.3 663.6,391.7C664.6,393.2 665.8,396.4 666.9,398.4C668.0,400.3 669.5,401.5 670.3,403.4C671.0,405.4 671.3,408.0 671.6,410.1C671.9,412.2 672.5,414.1 672.3,416.0C672.0,417.8 671.1,419.6 670.3,421.0C669.4,422.4 668.0,423.1 666.9,424.3C665.8,425.6 664.8,427.1 663.6,428.5C662.3,429.9 660.8,431.8 659.4,432.7C658.0,433.5 656.3,433.9 655.2,433.5C654.1,433.1 653.0,431.8 652.7,430.2Z" fill="#0ac832"/>
<path d="M668.6,425.2C669.3,423.9 671.6,421.9 673.6,421.0C675.5,420.0 678.1,419.4 680.3,419.3C682.5,419.2 684.7,419.7 687.0,420.1C689.2,420.6 692.0,421.1 693.7,421.8C695.3,422.5 697.0,423.3 697.0,424.3C697.0,425.3 695.3,427.0 693.7,427.7C692.0,428.4 689.2,428.5 687.0,428.5C684.7,428.5 682.5,427.7 680.3,427.7C678.1,427.7 675.4,428.4 673.6,428.5C671.8,428.6 670.3,429.1 669.4,428.5C668.6,427.9 667.9,426.4 668.6,425.2Z" fill="#0ac832"/>
<path d="M703.7,421.8C703.7,420.4 704.3,418.7 705.4,417.6C706.5,416.6 708.4,415.8 710.4,415.5C712.3,415.1 714.3,415.2 717.1,415.5C719.9,415.7 727.1,416.8 727.1,416.8C727.1,416.8 727.1,428.5 727.1,428.5C727.1,428.5 719.9,428.6 717.1,428.5C714.3,428.4 712.3,428.1 710.4,427.7C708.4,427.2 706.5,427.0 705.4,426.0C704.3,425.0 703.7,423.2 703.7,421.8Z" fill="#0ac832"/>
<path d="M702.2,263.2C701.8,261.9 700.8,258.7 701.0,257.0C701.2,255.3 702.6,253.5 703.5,253.2C704.4,253.0 706.1,254.3 706.5,255.8C706.9,257.2 706.4,260.5 706.0,262.0C705.6,263.5 704.6,264.8 704.0,265.0C703.4,265.2 702.8,264.6 702.2,263.2Z" fill="#0ac832"/>
<path d="M686.0,334.5C686.2,332.8 688.1,329.3 689.8,327.0C691.4,324.7 693.7,322.6 696.0,320.8C698.3,318.9 701.4,316.8 703.5,315.8C705.6,314.7 707.9,313.7 708.5,314.5C709.1,315.3 708.5,318.7 707.2,320.8C706.0,322.8 703.3,324.9 701.0,327.0C698.7,329.1 695.6,331.6 693.5,333.2C691.4,334.9 689.8,336.8 688.5,337.0C687.2,337.2 685.8,336.2 686.0,334.5Z" fill="#0ac832"/>
<path d="M674.8,364.5C674.5,362.2 675.2,357.4 676.0,354.5C676.8,351.6 678.3,348.7 679.8,347.0C681.2,345.3 683.4,344.3 684.8,344.5C686.1,344.7 687.5,346.2 687.8,348.2C688.0,350.3 686.9,354.3 686.0,357.0C685.1,359.7 683.7,362.6 682.2,364.5C680.8,366.4 678.5,368.2 677.2,368.2C676.0,368.2 675.0,366.8 674.8,364.5Z" fill="#0ac832"/>
<path d="M672.2,392.0C672.0,389.9 672.6,383.2 673.0,379.5C673.4,375.8 674.1,371.0 674.8,369.5C675.4,368.0 676.5,368.7 676.8,370.8C677.0,372.8 676.3,378.5 676.0,382.0C675.7,385.5 675.4,390.3 674.8,392.0C674.1,393.7 672.5,394.1 672.2,392.0Z" fill="#0ac832"/>
<path d="M654.0,424.5C651.2,422.4 654.2,415.8 654.8,412.0C655.3,408.2 656.0,404.9 657.2,402.0C658.5,399.1 660.4,396.2 662.2,394.5C664.1,392.8 666.6,392.2 668.5,392.0C670.4,391.8 672.5,391.6 673.5,393.2C674.5,394.9 675.0,398.9 674.8,402.0C674.5,405.1 672.8,408.2 672.2,412.0C671.7,415.8 674.5,422.4 671.5,424.5C668.5,426.6 656.8,426.6 654.0,424.5Z" fill="#0ac832"/>
<path d="M689.1,225.9C689.0,224.2 689.7,222.8 690.4,222.1C691.0,221.4 692.2,221.0 692.9,221.5C693.6,221.9 694.3,223.0 694.8,224.6C695.3,226.2 695.6,228.8 696.0,230.9C696.5,233.0 697.4,235.7 697.3,237.2C697.2,238.6 696.1,239.7 695.4,239.7C694.7,239.7 693.6,238.4 692.9,237.2C692.2,235.9 691.6,234.0 691.0,232.2C690.4,230.3 689.2,227.5 689.1,225.9Z" fill="#0ac832"/>
<path d="M632.5,209.5C632.3,208.5 633.1,206.2 633.8,204.5C634.4,202.8 635.0,201.0 636.3,199.4C637.5,197.9 639.6,196.3 641.3,195.0C643.0,193.8 644.7,192.8 646.4,191.9C648.0,191.0 649.9,190.0 651.4,189.4C652.9,188.8 654.1,188.2 655.2,188.1C656.2,188.0 657.9,188.1 657.7,188.8C657.5,189.4 655.4,190.9 653.9,191.9C652.4,192.9 650.5,194.0 648.9,195.0C647.2,196.1 645.3,197.0 643.8,198.2C642.4,199.3 641.2,200.5 640.1,202.0C638.9,203.4 637.8,205.5 636.9,207.0C636.1,208.5 635.8,210.3 635.0,210.8C634.3,211.2 632.7,210.6 632.5,209.5Z" fill="#0ac832"/>
<path d="M655.8,166.0C655.0,164.4 652.3,165.1 652.0,164.5C651.7,163.9 652.7,162.9 654.0,162.5C655.3,162.1 657.3,162.2 660.0,162.0C662.7,161.8 667.0,161.4 670.0,161.5C673.0,161.6 676.3,162.0 678.0,162.5C679.7,163.0 680.2,163.9 680.0,164.5C679.8,165.1 677.6,164.8 677.0,166.2C676.4,167.6 677.0,170.2 676.5,173.0C676.0,175.8 675.1,180.7 674.0,183.0C672.9,185.3 671.5,186.2 670.0,187.0C668.5,187.8 666.7,187.8 665.0,187.5C663.3,187.2 661.2,186.8 660.0,185.5C658.8,184.2 658.5,181.9 658.0,180.0C657.5,178.1 657.4,176.3 657.0,174.0C656.6,171.7 656.6,167.6 655.8,166.0Z" fill="#0ac832"/>
<path d="M716.2,520.3C716.4,519.4 716.9,518.3 718.7,517.8C720.5,517.2 727.0,516.9 727.0,516.9C727.0,516.9 727.0,525.3 727.0,525.3C727.0,525.3 722.0,524.9 720.3,524.4C718.7,524.0 718.0,523.5 717.3,522.8C716.6,522.1 715.9,521.1 716.2,520.3Z" fill="#0ac832"/>
<path d="M563.9,78.0C563.9,78.0 564.4,83.6 563.0,85.5C561.5,87.4 557.4,87.8 555.1,89.3C552.7,90.8 551.1,92.6 548.8,94.3C546.5,96.0 543.4,97.8 541.2,99.4C539.0,100.9 537.0,102.3 535.6,103.8C534.1,105.2 533.0,106.5 532.4,108.2C531.8,109.8 532.3,112.0 531.9,113.8C531.5,115.5 530.9,116.9 530.0,118.8C529.1,120.7 527.7,123.0 526.2,125.1C524.8,127.2 522.9,129.3 521.2,131.4C519.5,133.5 517.8,135.6 516.2,137.7C514.5,139.8 512.8,141.9 511.1,144.0C509.5,146.1 507.8,147.9 506.1,150.3C504.4,152.6 502.5,155.3 501.1,157.8C499.6,160.3 498.3,162.9 497.5,165.3C496.8,167.8 496.5,171.2 496.5,172.6C496.6,174.1 497.3,173.9 497.8,174.2C498.3,174.4 498.4,174.6 499.4,173.9C500.4,173.2 502.1,171.3 503.8,169.7C505.6,168.2 508.0,166.4 510.1,164.7C512.2,163.0 514.3,161.4 516.4,159.7C518.5,158.0 520.6,156.3 522.7,154.7C524.8,153.0 526.9,151.3 529.0,149.6C531.1,147.9 533.2,146.4 535.3,144.6C537.4,142.8 539.7,140.7 541.6,138.9C543.5,137.1 544.9,135.7 546.6,133.9C548.3,132.1 550.2,130.0 551.6,128.2C553.1,126.5 554.5,124.6 555.4,123.2C556.4,121.8 556.8,120.9 557.3,120.1C557.8,119.2 557.2,118.6 558.6,118.3C559.9,118.0 562.6,118.2 565.5,118.2C568.3,118.1 575.9,117.9 575.5,117.9C575.1,117.9 564.0,118.2 563.0,118.2C562.0,118.2 567.2,118.1 569.3,118.0C571.4,117.9 573.3,117.8 575.6,117.6C577.9,117.4 581.0,117.8 583.1,117.0C585.2,116.1 586.3,113.7 588.2,112.6C590.0,111.4 592.1,110.8 594.4,110.0C596.8,109.3 599.7,108.6 602.0,108.2C604.3,107.7 606.4,108.3 608.3,107.5C610.2,106.8 611.6,104.8 613.3,103.8C615.0,102.7 616.6,102.0 618.3,101.2C620.1,100.5 622.3,99.7 624.0,99.1C625.7,98.5 627.8,97.4 628.4,97.8C629.0,98.3 628.6,100.3 627.8,101.9C626.9,103.5 624.7,105.7 623.4,107.5C622.0,109.3 620.9,110.9 619.6,112.6C618.3,114.2 617.0,115.9 615.8,117.6C614.7,119.3 613.6,121.1 612.7,122.6C611.8,124.2 610.8,125.6 610.3,127.0C609.8,128.5 609.6,130.3 609.8,131.4C610.0,132.5 610.5,133.0 611.4,133.6C612.3,134.1 613.8,135.1 615.2,134.8C616.6,134.6 618.0,133.1 619.6,132.1C621.2,131.0 623.0,129.6 624.6,128.3C626.3,126.9 628.0,125.5 629.7,123.9C631.3,122.3 633.0,120.5 634.7,118.8C636.4,117.2 638.1,115.5 639.7,113.8C641.4,112.1 643.1,110.4 644.8,108.8C646.4,107.2 648.2,105.9 649.8,104.4C651.4,102.9 652.7,101.4 654.2,100.0C655.7,98.5 657.4,97.0 659.0,95.6C660.5,94.1 662.1,92.6 663.6,91.2C665.1,89.7 666.7,88.1 668.0,86.8C669.4,85.4 671.2,84.7 671.8,83.0C672.4,81.3 671.8,76.7 671.8,76.7C671.8,76.7 563.9,78.0 563.9,78.0Z" fill="#96f71a"/>
<path d="M571.5,76.3C571.5,76.3 572.2,81.5 571.5,83.0C570.8,84.5 568.8,84.6 567.3,85.5C565.9,86.5 564.8,87.6 563.0,88.7C561.1,89.7 558.5,90.4 556.3,91.8C554.1,93.2 552.3,95.2 550.0,96.8C547.7,98.5 544.6,100.4 542.5,101.9C540.4,103.3 538.5,104.3 537.4,105.6C536.4,106.9 536.3,108.3 535.9,109.7C535.6,111.0 535.8,112.0 535.3,113.8C534.8,115.5 533.8,118.0 532.8,120.1C531.7,122.2 530.5,124.3 529.0,126.4C527.5,128.4 525.6,130.5 524.0,132.6C522.3,134.7 520.6,136.8 518.9,138.9C517.3,141.0 515.6,143.0 513.9,145.2C512.2,147.4 510.5,149.6 508.9,152.1C507.2,154.7 505.2,157.5 503.8,160.3C502.5,163.1 501.3,167.4 500.7,169.1C500.1,170.8 500.0,170.6 500.3,170.6C500.6,170.6 501.2,170.3 502.6,169.1C504.0,167.9 506.8,165.2 508.9,163.5C511.0,161.7 513.1,160.1 515.2,158.4C517.3,156.8 519.4,155.1 521.4,153.4C523.5,151.7 525.6,150.0 527.7,148.4C529.8,146.7 531.9,145.1 534.0,143.3C536.1,141.6 538.4,139.5 540.3,137.7C542.2,135.9 543.8,134.3 545.3,132.6C546.9,131.0 548.4,129.3 549.7,127.6C551.1,125.9 552.4,124.0 553.5,122.6C554.7,121.1 555.9,119.9 556.7,118.8C557.4,117.7 556.7,116.3 558.2,115.8C559.6,115.3 562.6,115.7 565.5,115.7C568.4,115.6 575.9,115.5 575.5,115.3C575.1,115.1 564.3,114.7 563.0,114.4C561.7,114.2 566.1,114.0 568.0,113.8C569.9,113.6 572.2,113.4 574.3,113.2C576.4,113.0 578.9,113.1 580.6,112.6C582.3,112.0 582.9,110.9 584.4,110.0C585.9,109.2 587.5,108.2 589.4,107.5C591.3,106.9 593.6,106.7 595.7,106.3C597.8,105.9 600.1,105.3 602.0,105.0C603.9,104.7 605.6,104.9 607.0,104.4C608.5,103.9 609.9,102.6 610.8,101.9C611.7,101.1 611.4,100.7 612.7,100.0C613.9,99.3 616.4,98.6 618.3,97.8C620.3,97.1 622.7,96.1 624.6,95.6C626.5,95.1 628.5,94.7 629.7,94.9C630.8,95.2 631.7,95.7 631.6,96.8C631.4,98.0 630.0,100.2 629.0,101.9C628.1,103.5 627.0,105.2 625.9,106.9C624.7,108.6 623.4,110.3 622.1,111.9C620.9,113.6 619.6,115.3 618.3,117.0C617.1,118.6 615.5,120.4 614.6,122.0C613.6,123.6 613.1,125.1 612.7,126.4C612.3,127.7 612.0,128.7 612.3,129.8C612.6,130.8 613.6,132.6 614.6,132.7C615.6,132.7 616.9,131.2 618.3,130.2C619.8,129.1 621.7,127.8 623.4,126.4C625.1,125.0 626.7,123.6 628.4,122.0C630.1,120.4 631.8,118.6 633.4,117.0C635.1,115.3 636.8,113.6 638.5,111.9C640.1,110.3 641.8,108.6 643.5,106.9C645.2,105.2 646.9,103.5 648.5,101.9C650.2,100.2 651.8,98.5 653.6,96.8C655.3,95.2 657.3,93.4 659.0,91.8C660.7,90.2 662.2,88.9 663.6,87.4C665.0,85.9 666.8,84.8 667.4,83.0C668.0,81.2 667.4,76.7 667.4,76.7C667.4,76.7 571.5,76.3 571.5,76.3Z" fill="#ffff00"/>
<path d="M588.8,97.5C588.7,96.6 589.3,94.9 590.0,93.7C590.8,92.4 592.0,91.1 593.2,89.9C594.3,88.8 595.7,87.4 597.0,86.8C598.2,86.1 600.3,85.7 600.7,86.1C601.2,86.6 600.2,88.2 599.5,89.3C598.7,90.3 597.4,91.4 596.3,92.4C595.3,93.5 594.1,94.5 593.2,95.6C592.2,96.6 591.4,98.4 590.7,98.7C589.9,99.0 588.9,98.3 588.8,97.5Z" fill="#ffc814"/>
<g fill="none" stroke-linejoin="round" stroke-linecap="round">
<path d="M83.0,93.5L90.5,95.5L98.0,99.2L108.0,101.8L115.5,105.5L123.0,109.2L129.2,114.2L133.0,120.5L134.2,125.5L136.8,128.0L141.8,134.2L148.0,144.2L153.0,154.2L158.0,164.2L163.0,171.8L165.5,179.2L170.5,183.0L178.0,188.0L185.5,195.5L191.8,203.0L194.2,208.0L193.0,211.8L188.0,213.5L183.0,215.0L178.0,215.5L179.2,218.0L183.0,220.0L188.0,225.5L195.5,228.0L200.5,233.0L208.0,234.2L213.0,238.0L218.0,243.0L225.5,248.0L228.0,252.0" stroke="#000" stroke-width="0.7"/>
<path d="M136.8,127.5L179.2,124.2L183.0,123.0" stroke="#000" stroke-width="0.7"/>
<path d="M181.2,83.0L183.0,88.0L186.8,94.2L184.2,101.8L181.8,110.5L180.5,118.0L183.0,120.5L183.0,123.5L179.2,125.5L178.0,128.5" stroke="#000" stroke-width="0.7"/>
<path d="M178.0,128.5L245.5,150.0L275.0,150.0L299.2,150.0L299.2,142.2L327.5,139.2" stroke="#000" stroke-width="0.7"/>
<path d="M283.8,83.0L283.8,150.0" stroke="#000" stroke-width="0.7"/>
<path d="M327.5,138.5L392.5,137.5L393.0,83.0" stroke="#000" stroke-width="0.7"/>
<path d="M177.5,129.2L174.2,133.0L175.5,138.0L179.2,143.0L179.2,150.5L181.8,158.0L183.0,168.0L186.8,175.5L193.0,181.8L198.0,188.0L203.0,194.2L208.0,200.5L213.0,205.5L218.0,210.5L223.0,219.2L228.0,225.5L233.0,230.5L236.8,235.5L240.5,243.0L243.0,252.0" stroke="#000" stroke-width="0.7"/>
<path d="M178.5,130.5L179.2,141.0L188.0,145.5L195.5,147.5L200.5,151.8L206.8,154.2L210.5,158.0L213.0,165.5L218.0,173.0L221.8,181.8L226.8,188.0L230.5,195.5L235.5,200.5L243.0,206.8L249.2,211.8L255.5,216.8L258.0,223.0L265.5,228.0L270.5,233.0L275.0,235.5" stroke="#000" stroke-width="0.7"/>
<path d="M194.2,211.0L218.0,211.0" stroke="#000" stroke-width="0.7"/>
<path d="M203.5,184.2L206.8,185.5L210.5,191.0L209.2,193.0L206.0,190.5L203.0,186.0Z" stroke="#000" stroke-width="0.7"/>
<path d="M222.0,193.0L224.2,190.5L227.5,191.0L228.0,195.0L225.5,197.2L222.5,196.0Z" stroke="#000" stroke-width="0.7"/>
<path d="M171.5,206.0L173.5,205.5L174.2,209.2L172.5,211.2L171.0,209.2Z" stroke="#000" stroke-width="0.7"/>
<path d="M115.5,191.5L117.0,191.0L117.5,194.5L116.2,195.8Z" stroke="#000" stroke-width="0.7"/>
<path d="M233.8,233.0L235.5,234.2L236.0,237.5L234.5,236.8Z" stroke="#000" stroke-width="0.7"/>
<path d="M84.2,100.5L90.5,101.5" stroke="#000" stroke-width="1.2"/>
<path d="M91.8,114.5L93.5,115.5" stroke="#000" stroke-width="1.6"/>
<path d="M109.2,111.8L113.5,113.5" stroke="#000" stroke-width="1.2"/>
<path d="M109.2,120.0L113.0,123.0" stroke="#000" stroke-width="1.4"/>
<path d="M242.0,92.0L245.5,93.0" stroke="#000" stroke-width="1.6"/>
<path d="M327.5,139.2L333.8,145.5L341.2,151.8L350.0,158.0L357.5,164.2L362.5,171.8L366.2,178.0L371.2,183.0L377.5,186.8L383.8,189.2L387.5,192.5L391.2,190.5L395.0,184.2L400.0,179.2L406.2,176.8L413.8,177.5L421.2,178.0L425.0,181.8L430.0,188.0L435.0,195.5L440.0,203.0L445.0,210.5L450.0,216.8L455.0,223.0L458.8,233.0L461.2,240.5L467.0,245.5" stroke="#000" stroke-width="0.7"/>
<path d="M283.8,150.0L285.0,158.0L290.0,163.0L293.0,169.2L290.5,185.5L292.5,193.0L292.0,203.0L285.0,206.8L282.5,210.5L287.5,216.8L290.0,225.5L295.0,228.0L300.0,230.5L303.8,235.5L307.5,243.0L312.5,246.8L318.8,252.0" stroke="#000" stroke-width="0.7"/>
<path d="M293.8,228.5L280.0,240.5L275.0,235.0" stroke="#000" stroke-width="0.7"/>
<path d="M280.0,240.5L281.2,243.0L278.8,248.0L280.0,252.0" stroke="#000" stroke-width="0.7"/>
<path d="M387.5,192.5L382.5,200.5L376.2,211.8L378.8,223.0L382.5,235.5" stroke="#000" stroke-width="0.7"/>
<path d="M328.8,252.0L331.2,243.0L337.5,233.0L343.8,234.2L352.5,238.0L360.0,239.2L366.2,240.5L372.5,235.5L377.5,233.5L382.5,235.5L387.5,243.0L388.8,252.0" stroke="#000" stroke-width="0.7"/>
<path d="M425.0,252.0L427.5,243.0L431.2,236.8L437.5,231.8L435.0,225.5L438.8,220.5L445.0,216.8L450.0,216.8" stroke="#000" stroke-width="0.7"/>
<path d="M450.0,216.8L453.8,225.5L455.0,233.0L457.5,238.0L462.5,243.0L467.0,248.0" stroke="#000" stroke-width="0.7"/>
<path d="M448.8,83.0L449.2,89.2L453.8,93.0L460.0,93.5L467.0,95.5" stroke="#000" stroke-width="0.7"/>
<path d="M467.0,97.5L473.3,98.7L479.6,98.1L483.4,98.7L485.9,102.5L489.6,103.1L493.4,101.9L497.2,103.8L501.0,105.0L504.7,101.9L508.5,103.1L510.4,99.4L511.7,104.4L514.8,105.6L518.6,104.4L523.6,103.1L529.9,102.5L535.6,101.9L538.7,103.8L542.5,105.6L547.5,107.5L550.6,108.2L555.1,109.4L557.1,110.2L557.4,119.5" stroke="#000" stroke-width="0.7"/>
<path d="M549.4,83.0L549.4,107.2" stroke="#000" stroke-width="0.7"/>
<path d="M557.3,119.2L586.0,119.2L610.8,119.2" stroke="#000" stroke-width="0.7"/>
<path d="M557.3,119.2L557.7,127.6L557.9,135.2L561.7,141.4L565.5,150.3L566.1,157.8L564.2,165.3L562.3,172.9L560.4,177.3" stroke="#000" stroke-width="0.7"/>
<path d="M626.5,83.0L622.1,88.0L620.2,93.1L615.8,96.8L613.3,100.6L611.4,103.8L609.5,108.2L610.2,113.2L609.5,117.0L610.2,119.5L611.4,124.5L612.1,128.3L612.7,132.1L609.5,137.1L606.4,142.1L603.3,148.4L601.4,153.4L601.4,155.7L635.3,155.7L636.0,161.0L637.2,168.0" stroke="#000" stroke-width="0.7"/>
<path d="M664.4,83.0L662.7,108.1L661.1,133.2L660.2,154.9L659.9,166.6" stroke="#000" stroke-width="0.7"/>
<path d="M712.1,83.0L716.2,99.7L719.6,116.4L722.1,133.2L721.3,138.2L722.1,146.5L720.8,153.2L722.1,161.6L723.1,166.6" stroke="#000" stroke-width="0.7"/>
<path d="M673.6,155.7L722.1,155.7" stroke="#000" stroke-width="0.7"/>
<path d="M673.6,155.7L674.4,161.6L676.9,166.6" stroke="#000" stroke-width="0.7"/>
<path d="M525.0,200.0L530.0,193.8L535.0,188.8L540.0,185.0L545.0,181.2L552.5,179.5L560.0,177.5L567.5,176.2L575.0,177.0L580.0,176.2L586.2,178.8L592.5,180.5L598.8,181.2L603.8,183.8L608.8,187.0L615.0,188.8L620.0,189.5L626.2,187.5L631.2,185.0L636.2,182.5L640.0,179.5L642.5,176.2L641.2,173.8L638.8,172.0L640.0,171.2L645.0,168.8L652.5,167.5L660.0,167.0L665.0,168.0L666.2,162.0L668.5,162.5L670.0,167.5L676.2,167.0L682.5,167.0L690.0,166.2L697.5,166.2L702.5,167.0L707.5,170.0L712.5,173.8L716.2,178.8L721.2,180.5" stroke="#000" stroke-width="0.7"/>
<path d="M636.2,182.5L640.0,185.0L645.0,187.5L649.0,190.0L647.0,191.5L642.5,189.0L639.0,187.5L636.2,185.0" stroke="#000" stroke-width="0.9"/>
<path d="M620.5,170.0L623.8,167.0L630.0,166.5L636.2,168.8L637.5,173.0L632.5,175.0L626.2,174.0L622.0,173.0Z" stroke="#000" stroke-width="0.7"/>
<path d="M577.5,175.0L581.2,177.5L585.0,176.2" stroke="#000" stroke-width="1.0"/>
<path d="M591.2,178.0L596.2,180.5L601.2,179.5" stroke="#000" stroke-width="1.0"/>
<path d="M610.0,185.0L615.0,187.5L621.2,187.0L627.5,184.5" stroke="#000" stroke-width="1.0"/>
<path d="M539.1,179.6L541.6,181.4L544.8,178.3L545.4,181.4L547.9,183.0L544.2,183.0L541.6,185.2L541.4,182.5" stroke="#063" stroke-width="0.8"/>
<path d="M550.4,178.9L545.4,183.0L540.4,186.5L535.3,190.9L530.3,194.3L524.0,197.8L517.7,199.3L512.7,201.3L508.9,203.5L505.2,206.6L501.4,210.4L498.9,214.2L496.4,218.6L495.1,224.2L495.3,230.5L496.1,235.0" stroke="#000" stroke-width="0.7"/>
<path d="M517.7,197.8L511.4,199.7L506.4,204.1L502.0,208.1L498.9,212.3" stroke="#000" stroke-width="1.1"/>
<path d="M494.6,225.3L495.4,232.8L497.1,239.5L499.6,246.2L500.4,251.2L497.9,256.2L495.4,260.4L492.1,266.2L489.6,271.3L488.7,279.6L490.4,288.0L492.1,296.3L492.4,304.7L492.9,309.0" stroke="#000" stroke-width="0.7"/>
<path d="M494.6,225.3L493.8,232.8L495.8,240.3L498.8,246.2L501.3,252.0" stroke="#000" stroke-width="0.7"/>
<path d="M228.8,252.0L229.2,259.5L227.5,269.5L233.0,271.5L239.2,277.0L248.0,283.2L255.5,289.5L261.8,295.8L268.0,304.5L275.0,302.0L278.0,298.2L278.8,292.0L275.0,290.8L266.8,282.0L260.5,279.5L254.2,268.2L250.5,259.5L244.2,252.0" stroke="#000" stroke-width="0.7"/>
<path d="M275.0,235.5L280.9,240.0L279.2,245.0L280.0,251.7L285.0,255.1L288.4,258.4L296.7,261.7L302.6,265.1L305.9,270.9L310.1,276.0L316.0,281.0L321.0,286.0L325.2,291.0L330.2,295.2L334.4,301.0L339.4,306.1L343.6,309.4L347.7,311.6L348.6,316.9L351.1,323.6L353.6,328.6L356.1,333.6L356.6,338.7L353.6,342.0L352.8,347.0L349.4,350.4L348.6,353.0" stroke="#000" stroke-width="0.7"/>
<path d="M319.3,254.2L318.5,260.1L321.0,266.8L325.2,271.8L329.3,276.0L333.5,277.6L337.7,279.3L341.1,284.3L342.7,290.2L345.2,295.2L348.6,299.4L349.4,301.0" stroke="#000" stroke-width="0.7"/>
<path d="M305.9,240.0L310.1,243.3L315.1,246.7L319.3,251.7L321.0,254.2L325.2,253.4L328.5,250.9L330.2,246.7L331.0,242.5L332.7,240.0" stroke="#000" stroke-width="0.7"/>
<path d="M347.7,311.6L347.7,306.1L349.4,301.0L353.6,301.9L357.8,303.5L358.6,306.9L361.1,308.6L364.5,310.2L367.8,311.9L370.3,313.6" stroke="#000" stroke-width="0.7"/>
<path d="M370.3,313.6L371.2,306.9L372.8,298.5L375.3,290.2L378.7,283.5L382.9,279.3L388.7,276.0L395.4,274.3L400.4,272.6L402.1,268.4L403.1,263.4" stroke="#000" stroke-width="0.7"/>
<path d="M388.7,240.0L387.0,246.7L386.2,253.4L385.4,258.4L388.7,263.4L392.1,266.8L397.1,269.3L400.4,266.8L403.1,265.1" stroke="#000" stroke-width="0.7"/>
<path d="M370.3,313.6L369.5,318.6L372.0,323.6L373.7,328.6L375.3,332.8L372.0,335.3L371.2,340.3L370.3,342.8L365.3,341.2L360.3,338.7L356.1,340.3" stroke="#000" stroke-width="0.7"/>
<path d="M370.3,313.6L375.3,311.9L376.2,306.9L378.7,306.9L379.5,311.9L377.8,316.1L381.2,316.9L382.0,311.9L383.7,309.4L385.4,313.6L384.5,317.8L388.7,311.9L392.1,313.6L392.9,317.8L390.4,320.3L386.2,323.6L383.7,328.6L381.2,331.1L382.0,334.5L388.7,337.0L393.7,336.2L397.1,333.6L400.4,328.6L403.1,327.0" stroke="#000" stroke-width="0.7"/>
<path d="M388.4,240.0L387.5,246.7L386.7,253.4L384.2,258.4L386.7,263.4L390.9,266.8L396.7,268.4L400.1,265.1L402.6,264.2L408.4,265.1L414.3,266.8L419.3,269.3L423.5,268.4L428.5,270.9L432.7,273.4" stroke="#000" stroke-width="0.7"/>
<path d="M428.2,237.5L430.2,245.0L433.5,250.0L436.9,255.9L441.1,258.4L444.4,260.9L440.2,262.6L436.0,263.4L434.4,267.6L432.7,273.4" stroke="#000" stroke-width="0.7"/>
<path d="M432.7,273.4L428.5,279.3L423.5,284.3L417.6,289.3L412.6,292.7L408.4,296.0L407.6,301.0L409.3,306.1L412.6,310.2L416.0,312.7L419.3,311.1L422.7,310.2L424.3,313.6L423.5,318.6L421.8,321.9" stroke="#000" stroke-width="0.7"/>
<path d="M432.7,273.4L436.0,277.6L438.5,283.5L440.2,290.2L441.1,296.0L442.7,297.7L446.9,296.9L448.6,293.5L451.1,290.2L455.3,288.5L457.8,285.2L456.1,280.1L455.3,275.1L458.6,271.8L462.8,269.3L464.5,265.1L468.6,261.7L473.7,258.4L476.2,255.1L475.3,248.4L473.7,245.0" stroke="#000" stroke-width="0.7"/>
<path d="M475.3,248.4L468.6,245.9L463.6,242.5L462.0,240.0" stroke="#000" stroke-width="0.7"/>
<path d="M448.6,297.7L449.4,302.7L453.6,306.1L458.6,307.7L462.0,310.2L466.1,312.7L472.0,313.6L477.0,314.4L482.0,312.7L486.2,311.9L490.4,313.6" stroke="#000" stroke-width="0.7"/>
<path d="M477.0,314.4L475.3,320.3L477.0,325.3L475.3,330.3L478.7,335.3L482.0,338.7L479.5,343.7L475.3,347.0L477.0,350.4L482.0,353.0" stroke="#000" stroke-width="0.7"/>
<path d="M421.8,321.9L425.2,323.6L430.2,326.1L435.2,327.8L441.1,327.0L445.2,328.6L450.3,330.3L455.3,331.1L460.3,332.8L465.3,333.6L470.3,334.5L475.3,331.1" stroke="#000" stroke-width="0.7"/>
<path d="M397.6,321.9L400.1,316.1L405.9,312.7L411.0,315.3L414.3,320.3L411.8,324.4L405.9,327.0L400.1,325.3Z" stroke="#000" stroke-width="0.7"/>
<path d="M414.3,320.3L419.3,321.9L421.8,321.9L420.2,328.6L418.5,333.6L416.0,338.7L412.6,343.7L410.1,348.7L406.8,351.2L401.8,353.0" stroke="#000" stroke-width="0.7"/>
<path d="M440.2,353.0L439.4,347.0L441.1,342.0L445.2,339.5L448.6,336.2L449.4,332.0L450.3,330.3" stroke="#000" stroke-width="0.7"/>
<path d="M451.9,353.0L453.6,347.0L456.9,342.0L462.0,338.7L466.1,336.2L470.3,334.5" stroke="#000" stroke-width="0.7"/>
<path d="M356.8,330.0L355.9,336.7L353.4,341.7L349.2,346.7L348.4,351.7L350.9,357.6L354.2,362.6L358.4,366.8L363.4,371.0L366.0,372.6L371.0,374.3L376.0,376.8L380.2,379.3L383.5,383.5L386.9,387.7L391.9,390.2L396.9,391.9L401.9,393.2L406.9,394.4L410.3,395.2L415.3,396.1L420.3,398.6L425.3,401.9L430.3,405.3L435.4,407.8L440.4,409.9L447.1,411.9L453.7,414.4L458.1,416.1" stroke="#000" stroke-width="0.7"/>
<path d="M353.4,341.7L356.8,340.0L363.4,340.9L369.3,342.5L371.8,338.4L372.6,334.2L376.8,331.7L378.5,330.0" stroke="#000" stroke-width="0.7"/>
<path d="M366.0,372.6L370.1,370.1L372.6,366.0L376.0,366.0L378.5,367.6L381.8,366.0L384.3,369.3L384.8,375.2L381.8,379.3" stroke="#000" stroke-width="0.7"/>
<path d="M381.8,379.3L386.0,376.8L391.0,375.2L395.2,372.6L400.2,370.1L401.1,366.8L398.6,363.4L397.7,359.3L398.6,356.8L392.7,355.9L394.4,353.4L400.2,351.7L406.9,350.9L411.9,350.1" stroke="#000" stroke-width="0.7"/>
<path d="M420.3,330.0L417.0,335.0L412.8,340.0L411.1,345.1L411.9,350.1L417.0,351.7L421.1,350.9L423.6,354.2L428.7,355.1L432.8,356.8L437.0,357.6L442.0,356.8L444.5,353.4L446.2,357.6" stroke="#000" stroke-width="0.7"/>
<path d="M446.2,357.6L445.4,363.4L444.5,368.5L440.4,373.5L437.0,377.7L434.5,380.2L435.4,384.3L437.9,386.9L432.0,385.2L427.0,384.3L421.1,383.5L416.1,383.5L413.6,386.9L410.3,390.2L409.4,394.4L410.3,395.2" stroke="#000" stroke-width="0.7"/>
<path d="M437.9,386.9L440.4,378.5L442.0,383.5L443.7,386.0L448.7,382.7L453.7,381.0L458.1,379.3" stroke="#000" stroke-width="0.7"/>
<path d="M456.9,380.3L460.2,373.6L461.9,366.9L464.4,363.5L466.9,366.1L468.6,371.9L466.1,373.6L461.9,373.6" stroke="#000" stroke-width="0.7"/>
<path d="M460.2,373.6L463.5,380.3L466.9,385.3L470.2,390.3L475.3,393.6L480.3,396.2L483.6,400.3L485.3,407.0L486.1,413.0" stroke="#000" stroke-width="0.7"/>
<path d="M458.5,345.2L463.5,348.5L470.2,350.2L473.6,346.8L475.3,341.8L474.4,336.0L468.6,334.3" stroke="#000" stroke-width="0.7"/>
<path d="M473.6,320.1L475.3,325.1L474.4,330.1L474.4,336.0" stroke="#000" stroke-width="0.7"/>
<path d="M474.4,336.0L478.6,339.3L480.3,345.2L483.6,343.5L487.0,341.8L491.1,345.2L490.3,349.3L486.1,350.2L481.9,348.5" stroke="#000" stroke-width="0.7"/>
<path d="M475.3,341.8L478.6,348.5L476.9,353.5L480.3,358.5L483.6,363.5L487.0,366.9L491.1,368.6L487.0,371.9L481.9,372.7L478.6,370.2L474.4,366.9L473.6,363.5L470.2,365.2L466.9,366.1" stroke="#000" stroke-width="0.7"/>
<path d="M491.1,368.6L495.3,371.9L498.7,378.6L500.3,383.6L504.5,387.0L507.0,385.3L510.4,390.3L513.7,387.0L517.1,389.5L524.6,391.1" stroke="#000" stroke-width="0.7"/>
<path d="M500.3,383.6L498.7,388.6L493.6,391.1L490.3,390.3L488.6,387.0" stroke="#000" stroke-width="0.7"/>
<path d="M488.7,304.0L490.4,309.0L491.2,315.7L493.8,324.1L497.1,330.7L500.4,337.4L504.6,344.1L509.6,350.8L514.7,357.5L517.2,364.2L522.2,370.9L527.2,375.9L533.9,380.1L540.6,382.6L547.3,385.9L554.0,388.4L560.6,386.8L567.3,384.3L575.7,382.6L584.1,380.9L590.7,380.1L595.1,380.9" stroke="#000" stroke-width="0.7"/>
<path d="M508.0,387.6L513.8,385.9L520.5,392.6L525.5,396.0L524.7,400.1L528.9,402.6L533.9,399.3L536.4,400.1L538.9,406.0L543.9,407.7L550.6,407.7L557.3,409.3L560.6,407.7" stroke="#000" stroke-width="0.7"/>
<path d="M560.6,407.7L558.1,402.6L557.3,396.0L556.5,390.9L554.8,388.4" stroke="#000" stroke-width="0.7"/>
<path d="M560.6,407.7L559.0,414.4L557.3,422.0" stroke="#000" stroke-width="0.7"/>
<path d="M557.3,396.0L560.6,392.6L564.0,396.0L567.3,400.1L570.7,394.3L574.0,393.4L575.7,399.3L580.7,404.3L587.4,399.3L592.4,396.0L595.1,394.3" stroke="#000" stroke-width="0.7"/>
<path d="M584.1,380.9L587.4,385.9L592.4,387.6L595.1,390.9" stroke="#000" stroke-width="0.7"/>
<path d="M595.0,381.2L596.7,381.7L601.7,380.9L605.0,379.2L606.7,377.6L607.5,374.2L611.7,370.9L616.7,364.2L620.1,355.8L621.8,347.5L623.4,339.9L625.1,335.8L631.8,332.4L640.2,329.9L648.5,328.2L656.9,326.6L665.2,325.7L673.6,327.1L680.3,328.2L685.3,329.1L687.0,334.1L687.8,339.9L685.3,345.8L682.0,350.8L678.6,355.8L675.3,362.5L673.6,369.2L671.1,375.9L668.6,382.6L666.9,389.3L668.6,392.6" stroke="#000" stroke-width="0.7"/>
<path d="M623.4,339.9L624.3,344.1L627.6,346.6L631.0,347.5L633.5,352.5L637.6,358.3L641.8,362.5L650.2,358.3L658.5,353.3L666.9,347.5L673.6,340.8L676.9,334.1L676.9,329.1" stroke="#000" stroke-width="0.7"/>
<path d="M641.8,362.5L641.8,396.0" stroke="#000" stroke-width="0.7"/>
<path d="M611.7,396.0L641.8,396.0L650.2,395.1L655.2,390.9L659.4,387.6L661.9,382.6L664.4,379.2L666.9,384.3L668.6,392.6L670.3,387.6L673.6,379.2" stroke="#000" stroke-width="0.7"/>
<path d="M664.4,387.6L663.6,396.0L662.7,409.3L661.9,422.0" stroke="#000" stroke-width="0.7"/>
<path d="M685.3,346.6L687.8,345.8L688.6,348.3L686.1,350.0Z" stroke="#000" stroke-width="0.7"/>
<path d="M595.0,381.2L597.5,387.6L601.7,392.6L605.0,396.0L611.7,396.0" stroke="#000" stroke-width="0.7"/>
<path d="M601.7,392.6L600.0,399.3L605.0,404.3L611.7,405.2L612.6,400.1L611.7,396.0" stroke="#000" stroke-width="0.7"/>
<path d="M613.4,396.7L641.8,396.7L641.8,380.0" stroke="#000" stroke-width="0.7"/>
<path d="M664.4,386.7L663.6,396.7L662.7,410.1L661.1,418.5L656.9,425.2L652.7,430.2L653.5,433.5L661.9,433.8L670.3,433.5L678.6,433.2L688.6,433.8L698.7,432.2L708.7,430.2L715.4,429.8L727.1,430.2" stroke="#000" stroke-width="0.7"/>
<path d="M595.0,460.3L601.7,465.3L608.4,468.6L615.1,467.8L623.4,469.5L630.1,472.8L638.5,476.2L646.8,478.7L655.2,480.3L663.6,481.2L670.3,478.7L675.3,477.0L677.8,479.5L676.9,483.7L678.6,487.0L682.0,493.0" stroke="#000" stroke-width="0.7"/>
<path d="M568.1,438.8L573.4,443.5L580.1,450.2L586.8,456.0L593.5,460.2L600.2,464.4L606.9,467.7L613.6,468.6L620.3,468.6L627.0,470.2L633.6,473.6L640.3,476.1L648.7,478.6L657.1,480.6" stroke="#000" stroke-width="0.7"/>
<path d="M540.0,407.5L550.0,407.5L560.1,408.4L561.7,411.7L558.4,418.4L555.9,423.4L556.7,429.3" stroke="#000" stroke-width="0.7"/>
<path d="M591.8,454.3L593.5,446.8L596.9,438.5L600.2,430.1L623.6,428.4L621.9,423.4L615.3,418.4L608.6,411.7L603.5,406.7L600.2,401.7L598.5,400.0" stroke="#000" stroke-width="0.7"/>
<path d="M677.7,479.3L678.5,482.6L676.9,484.3L680.2,488.5L686.9,496.0L693.6,503.5L700.3,510.2L705.3,515.3L707.8,520.3L707.0,527.0L706.1,532.0L707.8,536.2L710.3,540.3" stroke="#000" stroke-width="0.7"/>
<path d="M722.5,510.2L717.0,506.1L712.0,502.7L707.8,501.0L705.3,501.9L705.6,506.9L707.8,511.9L711.1,516.1L715.3,518.6" stroke="#000" stroke-width="0.7"/>
<path d="M440.0,410.2L446.7,412.7L453.4,416.1L460.1,418.6L466.8,421.1L473.4,424.4L480.1,427.8L486.8,430.3L493.5,431.9L500.2,433.6L506.9,435.3L513.6,437.0L520.3,436.1L527.0,432.8L533.6,429.4L540.3,427.3L547.0,427.3L553.7,428.6L560.4,431.1L568.1,433.6" stroke="#000" stroke-width="0.7"/>
<path d="M479.3,395.2L481.0,400.2L483.5,405.2L485.2,410.2L482.6,416.9L480.1,421.9L479.3,423.6" stroke="#000" stroke-width="0.7"/>
<path d="M479.3,395.2L485.2,393.5L489.3,391.8L490.2,388.5L493.5,389.3" stroke="#000" stroke-width="0.7"/>
<path d="M555.4,428.6L557.1,421.9L558.7,416.9L560.4,411.9L563.7,406.9" stroke="#000" stroke-width="0.7"/>
<path d="M461.3,240.5L464.0,242.5L467.0,243.5L472.8,243.6L480.4,244.8L487.9,246.5L495.5,248.4L500.5,248.1" stroke="#000" stroke-width="0.7"/>
</g>
<g>
<rect x="91.6" y="510.8" width="150.4" height="26.8" fill="#ffffff" stroke="#e6ecfa" stroke-width="0.8"/>
<path d="M104.8,515.6 C99,518.3 96.2,522.5 96.8,527.2 C97.4,531.2 101.5,533.2 107.6,532.8 C103.6,531.2 101.8,528.8 102,525.6 C102.2,521.8 103.2,518.6 104.8,515.6Z" fill="#6f93b8"/>
<path d="M106.2,520.5 C103.4,522.6 102.2,525.2 102.8,527.6 C103.4,529.6 105.4,530.6 108.4,530.4 C106.2,529.4 105.2,527.8 105.4,525.8 C105.6,523.8 105.8,522 106.2,520.5Z" fill="#9db6cf"/>
<path d="M103.4,526.2 C105.2,524.2 106.8,523.8 108.8,524.4 C107.2,525 106.4,526 106.2,527.6 C105.2,527.6 104.2,527 103.4,526.2Z" fill="#e9a34c"/>
<text x="112.4" y="525.7" font-size="11.6px" textLength="58" lengthAdjust="spacingAndGlyphs" style="font-family:'Liberation Serif',serif;font-weight:bold;fill:#737376">CONAGUA</text>
<line x1="113.4" y1="528.6" x2="158.6" y2="528.6" stroke="#8e8e92" stroke-width="1.3" stroke-dasharray="1.1 0.5 0.8 0.45 1.3 0.5 0.7 1.2"/>
<rect x="179" y="516.6" width="0.7" height="16.8" fill="#cdb98a"/>
<g fill="none" stroke="#1f3a66" stroke-width="3.2" stroke-dasharray="3.1 1.7">
<circle cx="199.6" cy="523.6" r="7.2"/>
</g>
<g fill="none" stroke="#e3a65a" stroke-width="1.1">
<circle cx="199" cy="524" r="3.2"/>
<circle cx="194.6" cy="520.6" r="1.5"/>
<circle cx="205.8" cy="527.6" r="1.7"/>
<circle cx="191.6" cy="518.2" r="1"/>
</g>
<circle cx="199.6" cy="523.6" r="9.2" fill="none" stroke="#fff" stroke-width="1.6" stroke-dasharray="9 20" transform="rotate(150 199.6 523.6)"/>
<text x="211.6" y="525.4" font-size="11.2px" textLength="26.4" lengthAdjust="spacingAndGlyphs" style="font-family:'Liberation Serif',serif;font-weight:bold;fill:#737376">SMN</text>
<rect x="212" y="527.6" width="12.6" height="0.9" fill="#cdb98a"/>
<rect x="212" y="529.8" width="17" height="0.9" fill="#cdb98a"/>
<rect x="212" y="532" width="10.5" height="0.9" fill="#cdb98a"/>
</g>

</g>
<rect x="83.25" y="83.0" width="639.5" height="456.25" fill="none" stroke="#555" stroke-width="0.8"/>
<g stroke="#333" stroke-width="0.9">
<line x1="83.25" y1="539.25" x2="83.25" y2="551.75"/>
<line x1="174.61" y1="539.25" x2="174.61" y2="551.75"/>
<line x1="265.96" y1="539.25" x2="265.96" y2="551.75"/>
<line x1="357.32" y1="539.25" x2="357.32" y2="551.75"/>
<line x1="448.68" y1="539.25" x2="448.68" y2="551.75"/>
<line x1="540.04" y1="539.25" x2="540.04" y2="551.75"/>
<line x1="631.39" y1="539.25" x2="631.39" y2="551.75"/>
<line x1="722.75" y1="539.25" x2="722.75" y2="551.75"/>
<line x1="70.75" y1="83.00" x2="83.25" y2="83.00"/>
<line x1="70.75" y1="174.25" x2="83.25" y2="174.25"/>
<line x1="70.75" y1="265.50" x2="83.25" y2="265.50"/>
<line x1="70.75" y1="356.75" x2="83.25" y2="356.75"/>
<line x1="70.75" y1="448.00" x2="83.25" y2="448.00"/>
<line x1="70.75" y1="539.25" x2="83.25" y2="539.25"/>
</g>
<text x="83.25" y="577.7" font-size="17.5px" text-anchor="middle">120°W</text>
<text x="174.61" y="577.7" font-size="17.5px" text-anchor="middle">115°W</text>
<text x="265.96" y="577.7" font-size="17.5px" text-anchor="middle">110°W</text>
<text x="357.32" y="577.7" font-size="17.5px" text-anchor="middle">105°W</text>
<text x="448.68" y="577.7" font-size="17.5px" text-anchor="middle">100°W</text>
<text x="540.04" y="577.7" font-size="17.5px" text-anchor="middle">95°W</text>
<text x="631.39" y="577.7" font-size="17.5px" text-anchor="middle">90°W</text>
<text x="722.75" y="577.7" font-size="17.5px" text-anchor="middle">85°W</text>
<text x="58.5" y="89.40" font-size="17.7px" text-anchor="end">35°N</text>
<text x="58.5" y="180.65" font-size="17.7px" text-anchor="end">30°N</text>
<text x="58.5" y="271.90" font-size="17.7px" text-anchor="end">25°N</text>
<text x="58.5" y="363.15" font-size="17.7px" text-anchor="end">20°N</text>
<text x="58.5" y="454.40" font-size="17.7px" text-anchor="end">15°N</text>
<text x="58.5" y="545.65" font-size="17.7px" text-anchor="end">10°N</text>
<text x="179.3" y="30.3" font-size="14.5px">Modelo FV3-GFS (0.25<tspan font-size="8.5px" dy="-5.5">o</tspan><tspan dy="5.5">). Pronóstico de precipitación total acumulada</tspan></text>
<text x="206.9" y="53.2" font-size="12.3px">Válido de 2023-feb-04 12UTC a 2023-feb-09 12UTC</text>
<text x="508.8" y="53.2" font-size="12.3px">Alcance: 120 h</text>
<text x="729.2" y="659.8" font-size="12.4px" text-anchor="end">Inicialización: 2023-feb-04 00UTC</text>
<text x="397.5" y="605.4" font-size="12.2px" text-anchor="middle">(mm)</text>
<rect x="74.60" y="612.3" width="44.12" height="13.30" fill="#ffffff"/>
<rect x="118.42" y="612.3" width="44.12" height="13.30" fill="#b4c3fa"/>
<rect x="162.24" y="612.3" width="44.12" height="13.30" fill="#6e6ef5"/>
<rect x="206.06" y="612.3" width="44.12" height="13.30" fill="#0f5af5"/>
<rect x="249.88" y="612.3" width="44.12" height="13.30" fill="#0f8c8c"/>
<rect x="293.70" y="612.3" width="44.12" height="13.30" fill="#0ac832"/>
<rect x="337.52" y="612.3" width="44.12" height="13.30" fill="#96f71a"/>
<rect x="381.34" y="612.3" width="44.12" height="13.30" fill="#ffff00"/>
<rect x="425.16" y="612.3" width="44.12" height="13.30" fill="#ffc814"/>
<rect x="468.98" y="612.3" width="44.12" height="13.30" fill="#ff8c0a"/>
<rect x="512.80" y="612.3" width="44.12" height="13.30" fill="#fa461e"/>
<rect x="556.62" y="612.3" width="44.12" height="13.30" fill="#fa1e0a"/>
<rect x="600.44" y="612.3" width="44.12" height="13.30" fill="#c80a0a"/>
<rect x="644.26" y="612.3" width="44.12" height="13.30" fill="#96050a"/>
<rect x="688.08" y="612.3" width="44.12" height="13.30" fill="#640008"/>
<rect x="74.6" y="612.3" width="657.3" height="13.30" fill="none" stroke="#777" stroke-width="0.5"/>
<line x1="118.42" y1="612.3" x2="118.42" y2="625.6" stroke="#444" stroke-opacity="0.35" stroke-width="0.5"/>
<text x="118.42" y="637.5" font-size="10.8px" text-anchor="middle">0.1</text>
<line x1="162.24" y1="612.3" x2="162.24" y2="625.6" stroke="#444" stroke-opacity="0.35" stroke-width="0.5"/>
<text x="162.24" y="637.5" font-size="10.8px" text-anchor="middle">5</text>
<line x1="206.06" y1="612.3" x2="206.06" y2="625.6" stroke="#444" stroke-opacity="0.35" stroke-width="0.5"/>
<text x="206.06" y="637.5" font-size="10.8px" text-anchor="middle">10</text>
<line x1="249.88" y1="612.3" x2="249.88" y2="625.6" stroke="#444" stroke-opacity="0.35" stroke-width="0.5"/>
<text x="249.88" y="637.5" font-size="10.8px" text-anchor="middle">20</text>
<line x1="293.70" y1="612.3" x2="293.70" y2="625.6" stroke="#444" stroke-opacity="0.35" stroke-width="0.5"/>
<text x="293.70" y="637.5" font-size="10.8px" text-anchor="middle">25</text>
<line x1="337.52" y1="612.3" x2="337.52" y2="625.6" stroke="#444" stroke-opacity="0.35" stroke-width="0.5"/>
<text x="337.52" y="637.5" font-size="10.8px" text-anchor="middle">50</text>
<line x1="381.34" y1="612.3" x2="381.34" y2="625.6" stroke="#444" stroke-opacity="0.35" stroke-width="0.5"/>
<text x="381.34" y="637.5" font-size="10.8px" text-anchor="middle">75</text>
<line x1="425.16" y1="612.3" x2="425.16" y2="625.6" stroke="#444" stroke-opacity="0.35" stroke-width="0.5"/>
<text x="425.16" y="637.5" font-size="10.8px" text-anchor="middle">150</text>
<line x1="468.98" y1="612.3" x2="468.98" y2="625.6" stroke="#444" stroke-opacity="0.35" stroke-width="0.5"/>
<text x="468.98" y="637.5" font-size="10.8px" text-anchor="middle">250</text>
<line x1="512.80" y1="612.3" x2="512.80" y2="625.6" stroke="#444" stroke-opacity="0.35" stroke-width="0.5"/>
<text x="512.80" y="637.5" font-size="10.8px" text-anchor="middle">300</text>
<line x1="556.62" y1="612.3" x2="556.62" y2="625.6" stroke="#444" stroke-opacity="0.35" stroke-width="0.5"/>
<text x="556.62" y="637.5" font-size="10.8px" text-anchor="middle">400</text>
<line x1="600.44" y1="612.3" x2="600.44" y2="625.6" stroke="#444" stroke-opacity="0.35" stroke-width="0.5"/>
<text x="600.44" y="637.5" font-size="10.8px" text-anchor="middle">500</text>
<line x1="644.26" y1="612.3" x2="644.26" y2="625.6" stroke="#444" stroke-opacity="0.35" stroke-width="0.5"/>
<text x="644.26" y="637.5" font-size="10.8px" text-anchor="middle">600</text>
<line x1="688.08" y1="612.3" x2="688.08" y2="625.6" stroke="#444" stroke-opacity="0.35" stroke-width="0.5"/>
<text x="688.08" y="637.5" font-size="10.8px" text-anchor="middle">800</text>
</svg></body></html>
